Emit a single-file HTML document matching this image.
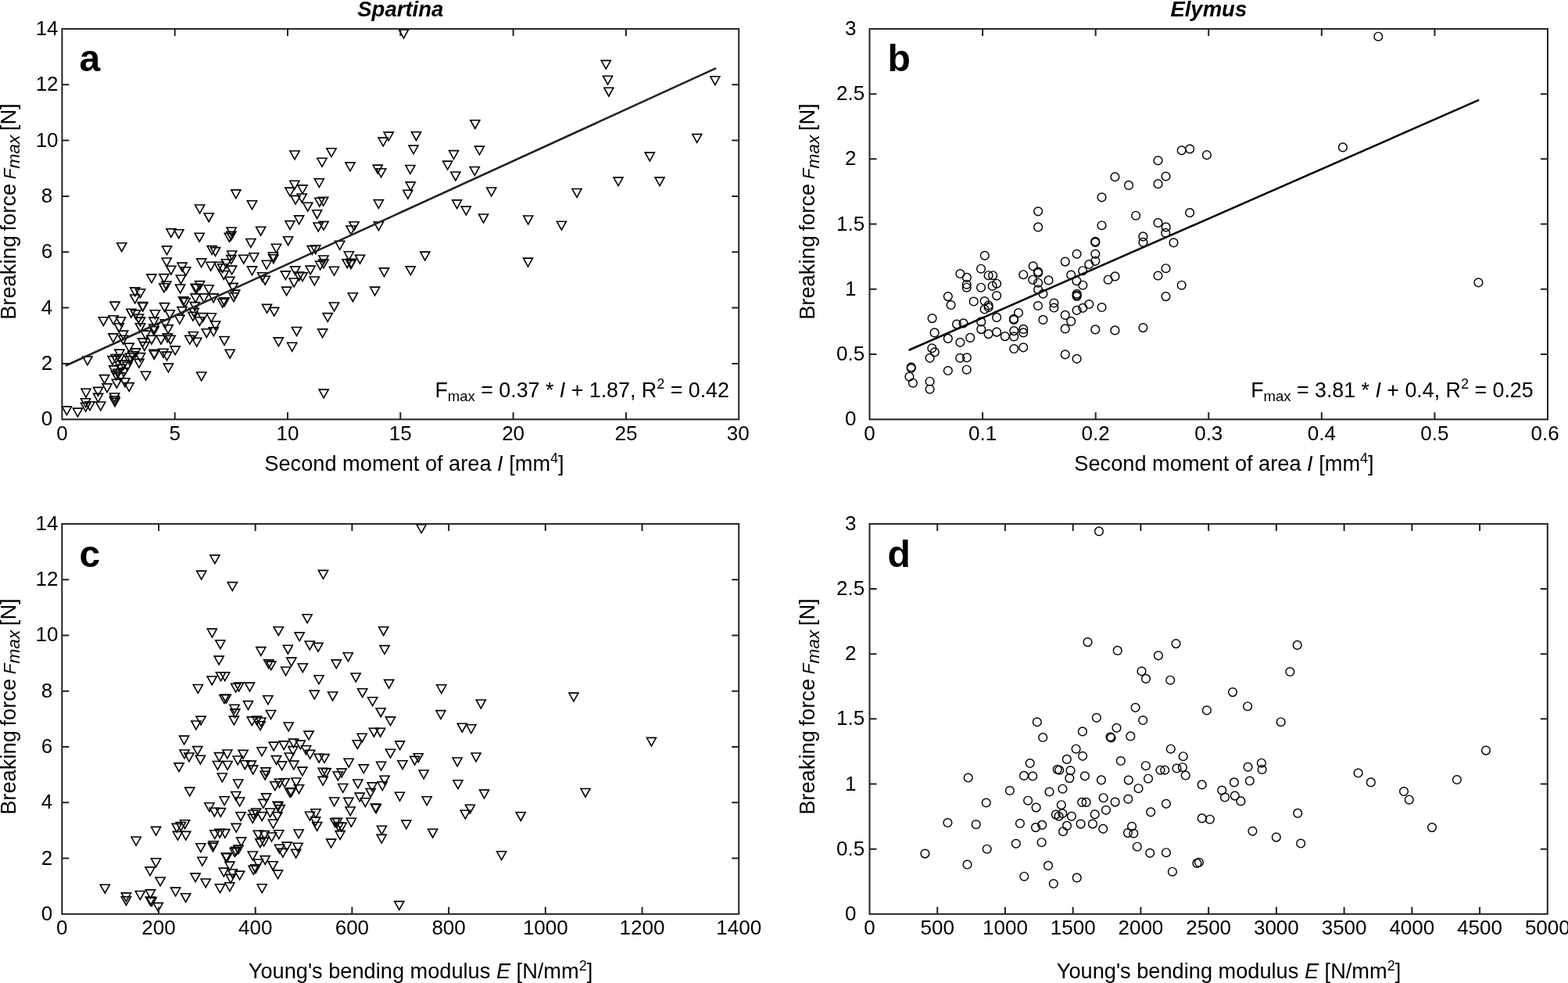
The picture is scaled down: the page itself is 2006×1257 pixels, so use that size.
<!DOCTYPE html><html><head><meta charset="utf-8"><style>html,body{margin:0;padding:0;background:#fff;overflow:hidden}svg{display:block}text{font-family:"Liberation Sans", Arial, sans-serif}</style></head><body>
<svg width="2006" height="1257" viewBox="0 0 2006 1257">
<rect width="2006" height="1257" fill="#fff"/>
<path d="M79.4 519.9H91.5L85.4 530.7Z" fill="none" stroke="#000" stroke-width="1.60" stroke-linejoin="miter"/>
<path d="M93.4 522.1H105.5L99.4 532.9Z" fill="none" stroke="#000" stroke-width="1.60" stroke-linejoin="miter"/>
<path d="M103.5 515.3H115.6L109.6 526.1Z" fill="none" stroke="#000" stroke-width="1.60" stroke-linejoin="miter"/>
<path d="M108.9 513.8H121.0L114.9 524.6Z" fill="none" stroke="#000" stroke-width="1.60" stroke-linejoin="miter"/>
<path d="M103.5 509.8H115.6L109.6 520.6Z" fill="none" stroke="#000" stroke-width="1.60" stroke-linejoin="miter"/>
<path d="M104.0 497.3H116.0L110.0 508.1Z" fill="none" stroke="#000" stroke-width="1.60" stroke-linejoin="miter"/>
<path d="M122.6 514.0H134.8L128.7 524.8Z" fill="none" stroke="#000" stroke-width="1.60" stroke-linejoin="miter"/>
<path d="M119.5 503.4H131.6L125.5 514.2Z" fill="none" stroke="#000" stroke-width="1.60" stroke-linejoin="miter"/>
<path d="M119.5 495.4H131.6L125.5 506.2Z" fill="none" stroke="#000" stroke-width="1.60" stroke-linejoin="miter"/>
<path d="M140.4 503.0H152.6L146.5 513.8Z" fill="none" stroke="#000" stroke-width="1.60" stroke-linejoin="miter"/>
<path d="M140.4 506.8H152.6L146.5 517.6Z" fill="none" stroke="#000" stroke-width="1.60" stroke-linejoin="miter"/>
<path d="M140.9 509.1H153.1L147.0 519.9Z" fill="none" stroke="#000" stroke-width="1.60" stroke-linejoin="miter"/>
<path d="M130.9 490.9H143.1L137.0 501.7Z" fill="none" stroke="#000" stroke-width="1.60" stroke-linejoin="miter"/>
<path d="M127.5 479.6H139.7L133.6 490.4Z" fill="none" stroke="#000" stroke-width="1.60" stroke-linejoin="miter"/>
<path d="M143.2 485.2H155.4L149.3 496.0Z" fill="none" stroke="#000" stroke-width="1.60" stroke-linejoin="miter"/>
<path d="M159.1 489.6H171.2L165.2 500.4Z" fill="none" stroke="#000" stroke-width="1.60" stroke-linejoin="miter"/>
<path d="M153.8 483.7H166.0L159.9 494.5Z" fill="none" stroke="#000" stroke-width="1.60" stroke-linejoin="miter"/>
<path d="M180.4 475.3H192.6L186.5 486.1Z" fill="none" stroke="#000" stroke-width="1.60" stroke-linejoin="miter"/>
<path d="M209.3 465.1H221.5L215.4 475.9Z" fill="none" stroke="#000" stroke-width="1.60" stroke-linejoin="miter"/>
<path d="M105.9 456.0H118.0L111.9 466.8Z" fill="none" stroke="#000" stroke-width="1.60" stroke-linejoin="miter"/>
<path d="M171.8 459.4H184.0L177.9 470.2Z" fill="none" stroke="#000" stroke-width="1.60" stroke-linejoin="miter"/>
<path d="M191.2 447.4H203.4L197.3 458.2Z" fill="none" stroke="#000" stroke-width="1.60" stroke-linejoin="miter"/>
<path d="M191.2 448.6H203.4L197.3 459.4Z" fill="none" stroke="#000" stroke-width="1.60" stroke-linejoin="miter"/>
<path d="M207.4 450.1H219.6L213.5 460.9Z" fill="none" stroke="#000" stroke-width="1.60" stroke-linejoin="miter"/>
<path d="M202.9 446.3H215.1L209.0 457.1Z" fill="none" stroke="#000" stroke-width="1.60" stroke-linejoin="miter"/>
<path d="M218.0 442.9H230.2L224.1 453.7Z" fill="none" stroke="#000" stroke-width="1.60" stroke-linejoin="miter"/>
<path d="M137.9 455.6H150.1L144.0 466.4Z" fill="none" stroke="#000" stroke-width="1.60" stroke-linejoin="miter"/>
<path d="M142.1 453.5H154.2L148.2 464.3Z" fill="none" stroke="#000" stroke-width="1.60" stroke-linejoin="miter"/>
<path d="M146.8 447.1H159.0L152.9 457.9Z" fill="none" stroke="#000" stroke-width="1.60" stroke-linejoin="miter"/>
<path d="M139.6 467.9H151.8L145.7 478.7Z" fill="none" stroke="#000" stroke-width="1.60" stroke-linejoin="miter"/>
<path d="M152.3 461.1H164.5L158.4 471.9Z" fill="none" stroke="#000" stroke-width="1.60" stroke-linejoin="miter"/>
<path d="M142.4 474.7H154.6L148.5 485.5Z" fill="none" stroke="#000" stroke-width="1.60" stroke-linejoin="miter"/>
<path d="M156.8 463.3H169.0L162.9 474.1Z" fill="none" stroke="#000" stroke-width="1.60" stroke-linejoin="miter"/>
<path d="M160.6 452.0H172.8L166.7 462.8Z" fill="none" stroke="#000" stroke-width="1.60" stroke-linejoin="miter"/>
<path d="M159.1 439.1H171.2L165.2 449.9Z" fill="none" stroke="#000" stroke-width="1.60" stroke-linejoin="miter"/>
<path d="M173.4 451.6H185.6L179.5 462.4Z" fill="none" stroke="#000" stroke-width="1.60" stroke-linejoin="miter"/>
<path d="M178.8 437.6H190.9L184.8 448.4Z" fill="none" stroke="#000" stroke-width="1.60" stroke-linejoin="miter"/>
<path d="M147.0 453.5H159.2L153.1 464.3Z" fill="none" stroke="#000" stroke-width="1.60" stroke-linejoin="miter"/>
<path d="M148.5 466.3H160.7L154.6 477.1Z" fill="none" stroke="#000" stroke-width="1.60" stroke-linejoin="miter"/>
<path d="M144.8 472.4H156.9L150.8 483.2Z" fill="none" stroke="#000" stroke-width="1.60" stroke-linejoin="miter"/>
<path d="M152.3 470.9H164.5L158.4 481.7Z" fill="none" stroke="#000" stroke-width="1.60" stroke-linejoin="miter"/>
<path d="M148.5 476.9H160.7L154.6 487.7Z" fill="none" stroke="#000" stroke-width="1.60" stroke-linejoin="miter"/>
<path d="M159.8 455.8H172.0L165.9 466.6Z" fill="none" stroke="#000" stroke-width="1.60" stroke-linejoin="miter"/>
<path d="M163.6 449.7H175.8L169.7 460.5Z" fill="none" stroke="#000" stroke-width="1.60" stroke-linejoin="miter"/>
<path d="M167.4 445.9H179.6L173.5 456.7Z" fill="none" stroke="#000" stroke-width="1.60" stroke-linejoin="miter"/>
<path d="M223.8 403.3H235.9L229.8 414.1Z" fill="none" stroke="#000" stroke-width="1.60" stroke-linejoin="miter"/>
<path d="M240.8 399.4H253.0L246.9 410.2Z" fill="none" stroke="#000" stroke-width="1.60" stroke-linejoin="miter"/>
<path d="M249.2 405.7H261.4L255.3 416.5Z" fill="none" stroke="#000" stroke-width="1.60" stroke-linejoin="miter"/>
<path d="M253.4 400.6H265.6L259.5 411.4Z" fill="none" stroke="#000" stroke-width="1.60" stroke-linejoin="miter"/>
<path d="M264.2 400.8H276.4L270.3 411.6Z" fill="none" stroke="#000" stroke-width="1.60" stroke-linejoin="miter"/>
<path d="M269.6 411.0H281.7L275.6 421.8Z" fill="none" stroke="#000" stroke-width="1.60" stroke-linejoin="miter"/>
<path d="M267.1 418.9H279.2L273.2 429.7Z" fill="none" stroke="#000" stroke-width="1.60" stroke-linejoin="miter"/>
<path d="M258.2 420.7H270.4L264.3 431.5Z" fill="none" stroke="#000" stroke-width="1.60" stroke-linejoin="miter"/>
<path d="M241.2 424.5H253.4L247.3 435.3Z" fill="none" stroke="#000" stroke-width="1.60" stroke-linejoin="miter"/>
<path d="M236.6 429.3H248.8L242.7 440.1Z" fill="none" stroke="#000" stroke-width="1.60" stroke-linejoin="miter"/>
<path d="M245.6 432.3H257.8L251.7 443.1Z" fill="none" stroke="#000" stroke-width="1.60" stroke-linejoin="miter"/>
<path d="M280.9 430.5H293.1L287.0 441.3Z" fill="none" stroke="#000" stroke-width="1.60" stroke-linejoin="miter"/>
<path d="M288.1 447.2H300.2L294.2 458.0Z" fill="none" stroke="#000" stroke-width="1.60" stroke-linejoin="miter"/>
<path d="M251.6 476.0H263.8L257.7 486.8Z" fill="none" stroke="#000" stroke-width="1.60" stroke-linejoin="miter"/>
<path d="M413.1 400.6H425.2L419.2 411.4Z" fill="none" stroke="#000" stroke-width="1.60" stroke-linejoin="miter"/>
<path d="M373.4 418.5H385.6L379.5 429.3Z" fill="none" stroke="#000" stroke-width="1.60" stroke-linejoin="miter"/>
<path d="M406.6 420.9H418.7L412.6 431.7Z" fill="none" stroke="#000" stroke-width="1.60" stroke-linejoin="miter"/>
<path d="M350.3 431.9H362.4L356.4 442.7Z" fill="none" stroke="#000" stroke-width="1.60" stroke-linejoin="miter"/>
<path d="M367.6 438.3H379.8L373.7 449.1Z" fill="none" stroke="#000" stroke-width="1.60" stroke-linejoin="miter"/>
<path d="M408.1 498.1H420.2L414.1 508.9Z" fill="none" stroke="#000" stroke-width="1.60" stroke-linejoin="miter"/>
<path d="M187.8 350.9H200.0L193.9 361.7Z" fill="none" stroke="#000" stroke-width="1.60" stroke-linejoin="miter"/>
<path d="M203.8 350.6H215.9L209.8 361.4Z" fill="none" stroke="#000" stroke-width="1.60" stroke-linejoin="miter"/>
<path d="M206.8 360.0H218.9L212.8 370.8Z" fill="none" stroke="#000" stroke-width="1.60" stroke-linejoin="miter"/>
<path d="M203.8 362.7H215.9L209.8 373.5Z" fill="none" stroke="#000" stroke-width="1.60" stroke-linejoin="miter"/>
<path d="M166.6 367.9H178.8L172.7 378.7Z" fill="none" stroke="#000" stroke-width="1.60" stroke-linejoin="miter"/>
<path d="M173.4 369.8H185.6L179.5 380.6Z" fill="none" stroke="#000" stroke-width="1.60" stroke-linejoin="miter"/>
<path d="M166.6 377.0H178.8L172.7 387.8Z" fill="none" stroke="#000" stroke-width="1.60" stroke-linejoin="miter"/>
<path d="M140.9 386.1H153.1L147.0 396.9Z" fill="none" stroke="#000" stroke-width="1.60" stroke-linejoin="miter"/>
<path d="M176.5 386.5H188.7L182.6 397.3Z" fill="none" stroke="#000" stroke-width="1.60" stroke-linejoin="miter"/>
<path d="M176.5 387.4H188.7L182.6 398.2Z" fill="none" stroke="#000" stroke-width="1.60" stroke-linejoin="miter"/>
<path d="M204.4 387.6H216.6L210.5 398.4Z" fill="none" stroke="#000" stroke-width="1.60" stroke-linejoin="miter"/>
<path d="M161.8 395.2H173.9L167.8 406.0Z" fill="none" stroke="#000" stroke-width="1.60" stroke-linejoin="miter"/>
<path d="M167.4 396.7H179.6L173.5 407.5Z" fill="none" stroke="#000" stroke-width="1.60" stroke-linejoin="miter"/>
<path d="M192.3 396.7H204.5L198.4 407.5Z" fill="none" stroke="#000" stroke-width="1.60" stroke-linejoin="miter"/>
<path d="M211.2 396.7H223.4L217.3 407.5Z" fill="none" stroke="#000" stroke-width="1.60" stroke-linejoin="miter"/>
<path d="M171.2 402.0H183.4L177.3 412.8Z" fill="none" stroke="#000" stroke-width="1.60" stroke-linejoin="miter"/>
<path d="M126.3 405.7H138.4L132.3 416.5Z" fill="none" stroke="#000" stroke-width="1.60" stroke-linejoin="miter"/>
<path d="M139.0 403.8H151.2L145.1 414.6Z" fill="none" stroke="#000" stroke-width="1.60" stroke-linejoin="miter"/>
<path d="M148.5 405.7H160.7L154.6 416.5Z" fill="none" stroke="#000" stroke-width="1.60" stroke-linejoin="miter"/>
<path d="M190.8 406.1H203.0L196.9 416.9Z" fill="none" stroke="#000" stroke-width="1.60" stroke-linejoin="miter"/>
<path d="M173.4 406.1H185.6L179.5 416.9Z" fill="none" stroke="#000" stroke-width="1.60" stroke-linejoin="miter"/>
<path d="M146.2 413.7H158.4L152.3 424.5Z" fill="none" stroke="#000" stroke-width="1.60" stroke-linejoin="miter"/>
<path d="M173.4 413.7H185.6L179.5 424.5Z" fill="none" stroke="#000" stroke-width="1.60" stroke-linejoin="miter"/>
<path d="M190.8 414.8H203.0L196.9 425.6Z" fill="none" stroke="#000" stroke-width="1.60" stroke-linejoin="miter"/>
<path d="M209.0 415.6H221.2L215.1 426.4Z" fill="none" stroke="#000" stroke-width="1.60" stroke-linejoin="miter"/>
<path d="M205.2 408.8H217.4L211.3 419.6Z" fill="none" stroke="#000" stroke-width="1.60" stroke-linejoin="miter"/>
<path d="M190.8 417.8H203.0L196.9 428.6Z" fill="none" stroke="#000" stroke-width="1.60" stroke-linejoin="miter"/>
<path d="M151.5 423.1H163.7L157.6 433.9Z" fill="none" stroke="#000" stroke-width="1.60" stroke-linejoin="miter"/>
<path d="M138.8 426.9H150.9L144.8 437.7Z" fill="none" stroke="#000" stroke-width="1.60" stroke-linejoin="miter"/>
<path d="M151.5 429.2H163.7L157.6 440.0Z" fill="none" stroke="#000" stroke-width="1.60" stroke-linejoin="miter"/>
<path d="M208.2 426.9H220.4L214.3 437.7Z" fill="none" stroke="#000" stroke-width="1.60" stroke-linejoin="miter"/>
<path d="M187.8 429.2H200.0L193.9 440.0Z" fill="none" stroke="#000" stroke-width="1.60" stroke-linejoin="miter"/>
<path d="M199.9 429.2H212.1L206.0 440.0Z" fill="none" stroke="#000" stroke-width="1.60" stroke-linejoin="miter"/>
<path d="M212.0 429.2H224.2L218.1 440.0Z" fill="none" stroke="#000" stroke-width="1.60" stroke-linejoin="miter"/>
<path d="M176.5 432.9H188.7L182.6 443.7Z" fill="none" stroke="#000" stroke-width="1.60" stroke-linejoin="miter"/>
<path d="M180.2 423.1H192.4L186.3 433.9Z" fill="none" stroke="#000" stroke-width="1.60" stroke-linejoin="miter"/>
<path d="M249.1 298.2H261.2L255.2 309.0Z" fill="none" stroke="#000" stroke-width="1.60" stroke-linejoin="miter"/>
<path d="M287.3 298.4H299.4L293.4 309.2Z" fill="none" stroke="#000" stroke-width="1.60" stroke-linejoin="miter"/>
<path d="M289.8 296.2H301.9L295.8 307.0Z" fill="none" stroke="#000" stroke-width="1.60" stroke-linejoin="miter"/>
<path d="M362.6 302.7H374.7L368.6 313.5Z" fill="none" stroke="#000" stroke-width="1.60" stroke-linejoin="miter"/>
<path d="M314.8 305.5H326.9L320.9 316.3Z" fill="none" stroke="#000" stroke-width="1.60" stroke-linejoin="miter"/>
<path d="M347.4 312.3H359.6L353.5 323.1Z" fill="none" stroke="#000" stroke-width="1.60" stroke-linejoin="miter"/>
<path d="M265.1 314.6H277.2L271.2 325.4Z" fill="none" stroke="#000" stroke-width="1.60" stroke-linejoin="miter"/>
<path d="M269.4 316.6H281.6L275.5 327.4Z" fill="none" stroke="#000" stroke-width="1.60" stroke-linejoin="miter"/>
<path d="M290.6 321.0H302.7L296.6 331.8Z" fill="none" stroke="#000" stroke-width="1.60" stroke-linejoin="miter"/>
<path d="M289.8 326.6H301.9L295.8 337.4Z" fill="none" stroke="#000" stroke-width="1.60" stroke-linejoin="miter"/>
<path d="M343.4 323.0H355.6L349.5 333.8Z" fill="none" stroke="#000" stroke-width="1.60" stroke-linejoin="miter"/>
<path d="M343.8 325.8H355.9L349.9 336.6Z" fill="none" stroke="#000" stroke-width="1.60" stroke-linejoin="miter"/>
<path d="M318.8 323.8H330.9L324.8 334.6Z" fill="none" stroke="#000" stroke-width="1.60" stroke-linejoin="miter"/>
<path d="M305.6 326.2H317.8L311.7 337.0Z" fill="none" stroke="#000" stroke-width="1.60" stroke-linejoin="miter"/>
<path d="M251.6 330.9H263.7L257.6 341.7Z" fill="none" stroke="#000" stroke-width="1.60" stroke-linejoin="miter"/>
<path d="M283.3 331.7H295.4L289.4 342.5Z" fill="none" stroke="#000" stroke-width="1.60" stroke-linejoin="miter"/>
<path d="M263.6 335.3H275.7L269.6 346.1Z" fill="none" stroke="#000" stroke-width="1.60" stroke-linejoin="miter"/>
<path d="M273.8 335.3H285.9L279.9 346.1Z" fill="none" stroke="#000" stroke-width="1.60" stroke-linejoin="miter"/>
<path d="M278.6 337.7H290.8L284.7 348.5Z" fill="none" stroke="#000" stroke-width="1.60" stroke-linejoin="miter"/>
<path d="M290.6 340.1H302.7L296.6 350.9Z" fill="none" stroke="#000" stroke-width="1.60" stroke-linejoin="miter"/>
<path d="M280.2 346.5H292.4L286.3 357.3Z" fill="none" stroke="#000" stroke-width="1.60" stroke-linejoin="miter"/>
<path d="M335.1 333.3H347.2L341.1 344.1Z" fill="none" stroke="#000" stroke-width="1.60" stroke-linejoin="miter"/>
<path d="M316.4 340.9H328.6L322.5 351.7Z" fill="none" stroke="#000" stroke-width="1.60" stroke-linejoin="miter"/>
<path d="M329.6 348.8H341.7L335.6 359.6Z" fill="none" stroke="#000" stroke-width="1.60" stroke-linejoin="miter"/>
<path d="M333.1 353.2H345.2L339.2 364.0Z" fill="none" stroke="#000" stroke-width="1.60" stroke-linejoin="miter"/>
<path d="M287.8 354.4H299.9L293.8 365.2Z" fill="none" stroke="#000" stroke-width="1.60" stroke-linejoin="miter"/>
<path d="M292.1 362.4H304.2L298.2 373.2Z" fill="none" stroke="#000" stroke-width="1.60" stroke-linejoin="miter"/>
<path d="M359.3 346.9H371.4L365.4 357.7Z" fill="none" stroke="#000" stroke-width="1.60" stroke-linejoin="miter"/>
<path d="M371.6 340.9H383.8L377.7 351.7Z" fill="none" stroke="#000" stroke-width="1.60" stroke-linejoin="miter"/>
<path d="M370.1 356.0H382.2L376.1 366.8Z" fill="none" stroke="#000" stroke-width="1.60" stroke-linejoin="miter"/>
<path d="M360.6 367.1H372.7L366.6 377.9Z" fill="none" stroke="#000" stroke-width="1.60" stroke-linejoin="miter"/>
<path d="M249.5 359.6H261.6L255.6 370.4Z" fill="none" stroke="#000" stroke-width="1.60" stroke-linejoin="miter"/>
<path d="M244.0 363.2H256.1L250.1 374.0Z" fill="none" stroke="#000" stroke-width="1.60" stroke-linejoin="miter"/>
<path d="M245.6 363.8H257.8L251.7 374.6Z" fill="none" stroke="#000" stroke-width="1.60" stroke-linejoin="miter"/>
<path d="M261.1 364.8H273.2L267.2 375.6Z" fill="none" stroke="#000" stroke-width="1.60" stroke-linejoin="miter"/>
<path d="M294.6 371.1H306.7L300.6 381.9Z" fill="none" stroke="#000" stroke-width="1.60" stroke-linejoin="miter"/>
<path d="M292.9 374.7H305.1L299.0 385.5Z" fill="none" stroke="#000" stroke-width="1.60" stroke-linejoin="miter"/>
<path d="M244.0 375.9H256.1L250.1 386.7Z" fill="none" stroke="#000" stroke-width="1.60" stroke-linejoin="miter"/>
<path d="M254.8 375.9H266.9L260.8 386.7Z" fill="none" stroke="#000" stroke-width="1.60" stroke-linejoin="miter"/>
<path d="M267.1 375.9H279.2L273.1 386.7Z" fill="none" stroke="#000" stroke-width="1.60" stroke-linejoin="miter"/>
<path d="M281.1 380.7H293.2L287.1 391.5Z" fill="none" stroke="#000" stroke-width="1.60" stroke-linejoin="miter"/>
<path d="M278.6 382.2H290.8L284.7 393.0Z" fill="none" stroke="#000" stroke-width="1.60" stroke-linejoin="miter"/>
<path d="M228.5 379.9H240.7L234.6 390.7Z" fill="none" stroke="#000" stroke-width="1.60" stroke-linejoin="miter"/>
<path d="M230.9 381.5H243.1L237.0 392.3Z" fill="none" stroke="#000" stroke-width="1.60" stroke-linejoin="miter"/>
<path d="M243.2 386.6H255.4L249.3 397.4Z" fill="none" stroke="#000" stroke-width="1.60" stroke-linejoin="miter"/>
<path d="M335.4 389.4H347.6L341.5 400.2Z" fill="none" stroke="#000" stroke-width="1.60" stroke-linejoin="miter"/>
<path d="M344.6 393.4H356.8L350.7 404.2Z" fill="none" stroke="#000" stroke-width="1.60" stroke-linejoin="miter"/>
<path d="M226.9 336.1H239.1L233.0 346.9Z" fill="none" stroke="#000" stroke-width="1.60" stroke-linejoin="miter"/>
<path d="M231.6 341.7H243.8L237.7 352.5Z" fill="none" stroke="#000" stroke-width="1.60" stroke-linejoin="miter"/>
<path d="M225.3 352.0H237.5L231.4 362.8Z" fill="none" stroke="#000" stroke-width="1.60" stroke-linejoin="miter"/>
<path d="M224.5 364.0H236.7L230.6 374.8Z" fill="none" stroke="#000" stroke-width="1.60" stroke-linejoin="miter"/>
<path d="M226.9 392.6H239.1L233.0 403.4Z" fill="none" stroke="#000" stroke-width="1.60" stroke-linejoin="miter"/>
<path d="M242.0 394.2H254.2L248.1 405.0Z" fill="none" stroke="#000" stroke-width="1.60" stroke-linejoin="miter"/>
<path d="M149.6 310.7H161.8L155.7 321.5Z" fill="none" stroke="#000" stroke-width="1.60" stroke-linejoin="miter"/>
<path d="M212.8 292.6H224.9L218.8 303.4Z" fill="none" stroke="#000" stroke-width="1.60" stroke-linejoin="miter"/>
<path d="M222.6 293.7H234.8L228.7 304.5Z" fill="none" stroke="#000" stroke-width="1.60" stroke-linejoin="miter"/>
<path d="M207.4 314.9H219.6L213.5 325.7Z" fill="none" stroke="#000" stroke-width="1.60" stroke-linejoin="miter"/>
<path d="M207.1 330.0H219.2L213.2 340.8Z" fill="none" stroke="#000" stroke-width="1.60" stroke-linejoin="miter"/>
<path d="M212.8 340.2H224.9L218.8 351.0Z" fill="none" stroke="#000" stroke-width="1.60" stroke-linejoin="miter"/>
<path d="M295.8 242.9H307.9L301.8 253.7Z" fill="none" stroke="#000" stroke-width="1.60" stroke-linejoin="miter"/>
<path d="M316.4 256.8H328.6L322.5 267.6Z" fill="none" stroke="#000" stroke-width="1.60" stroke-linejoin="miter"/>
<path d="M249.5 262.0H261.6L255.6 272.8Z" fill="none" stroke="#000" stroke-width="1.60" stroke-linejoin="miter"/>
<path d="M261.1 272.7H273.2L267.2 283.5Z" fill="none" stroke="#000" stroke-width="1.60" stroke-linejoin="miter"/>
<path d="M290.1 291.0H302.2L296.2 301.8Z" fill="none" stroke="#000" stroke-width="1.60" stroke-linejoin="miter"/>
<path d="M327.6 290.2H339.7L333.6 301.0Z" fill="none" stroke="#000" stroke-width="1.60" stroke-linejoin="miter"/>
<path d="M364.9 282.6H377.1L371.0 293.4Z" fill="none" stroke="#000" stroke-width="1.60" stroke-linejoin="miter"/>
<path d="M364.9 240.1H377.1L371.0 250.9Z" fill="none" stroke="#000" stroke-width="1.60" stroke-linejoin="miter"/>
<path d="M370.8 231.3H382.9L376.9 242.1Z" fill="none" stroke="#000" stroke-width="1.60" stroke-linejoin="miter"/>
<path d="M372.1 250.4H384.2L378.1 261.2Z" fill="none" stroke="#000" stroke-width="1.60" stroke-linejoin="miter"/>
<path d="M380.9 236.9H393.1L387.0 247.7Z" fill="none" stroke="#000" stroke-width="1.60" stroke-linejoin="miter"/>
<path d="M380.1 248.0H392.2L386.2 258.8Z" fill="none" stroke="#000" stroke-width="1.60" stroke-linejoin="miter"/>
<path d="M387.6 259.2H399.8L393.7 270.0Z" fill="none" stroke="#000" stroke-width="1.60" stroke-linejoin="miter"/>
<path d="M402.3 228.6H414.4L408.4 239.4Z" fill="none" stroke="#000" stroke-width="1.60" stroke-linejoin="miter"/>
<path d="M405.9 202.3H418.1L412.0 213.1Z" fill="none" stroke="#000" stroke-width="1.60" stroke-linejoin="miter"/>
<path d="M441.9 207.9H454.1L448.0 218.7Z" fill="none" stroke="#000" stroke-width="1.60" stroke-linejoin="miter"/>
<path d="M477.1 211.1H489.2L483.2 221.9Z" fill="none" stroke="#000" stroke-width="1.60" stroke-linejoin="miter"/>
<path d="M481.6 215.8H493.7L487.6 226.6Z" fill="none" stroke="#000" stroke-width="1.60" stroke-linejoin="miter"/>
<path d="M518.9 211.5H530.9L524.9 222.3Z" fill="none" stroke="#000" stroke-width="1.60" stroke-linejoin="miter"/>
<path d="M519.2 232.9H531.3L525.3 243.7Z" fill="none" stroke="#000" stroke-width="1.60" stroke-linejoin="miter"/>
<path d="M515.8 243.3H527.8L521.8 254.1Z" fill="none" stroke="#000" stroke-width="1.60" stroke-linejoin="miter"/>
<path d="M478.3 255.6H490.4L484.4 266.4Z" fill="none" stroke="#000" stroke-width="1.60" stroke-linejoin="miter"/>
<path d="M402.8 253.2H414.9L408.8 264.0Z" fill="none" stroke="#000" stroke-width="1.60" stroke-linejoin="miter"/>
<path d="M407.6 252.4H419.7L413.6 263.2Z" fill="none" stroke="#000" stroke-width="1.60" stroke-linejoin="miter"/>
<path d="M399.6 268.7H411.7L405.6 279.5Z" fill="none" stroke="#000" stroke-width="1.60" stroke-linejoin="miter"/>
<path d="M376.6 275.9H388.7L382.6 286.7Z" fill="none" stroke="#000" stroke-width="1.60" stroke-linejoin="miter"/>
<path d="M401.1 285.0H413.2L407.2 295.8Z" fill="none" stroke="#000" stroke-width="1.60" stroke-linejoin="miter"/>
<path d="M407.9 283.4H420.1L414.0 294.2Z" fill="none" stroke="#000" stroke-width="1.60" stroke-linejoin="miter"/>
<path d="M446.9 283.8H459.1L453.0 294.6Z" fill="none" stroke="#000" stroke-width="1.60" stroke-linejoin="miter"/>
<path d="M442.9 289.0H455.1L449.0 299.8Z" fill="none" stroke="#000" stroke-width="1.60" stroke-linejoin="miter"/>
<path d="M478.3 283.8H490.4L484.4 294.6Z" fill="none" stroke="#000" stroke-width="1.60" stroke-linejoin="miter"/>
<path d="M393.2 314.6H405.4L399.3 325.4Z" fill="none" stroke="#000" stroke-width="1.60" stroke-linejoin="miter"/>
<path d="M397.6 313.8H409.8L403.7 324.6Z" fill="none" stroke="#000" stroke-width="1.60" stroke-linejoin="miter"/>
<path d="M428.6 308.3H440.8L434.7 319.1Z" fill="none" stroke="#000" stroke-width="1.60" stroke-linejoin="miter"/>
<path d="M407.9 327.0H420.1L414.0 337.8Z" fill="none" stroke="#000" stroke-width="1.60" stroke-linejoin="miter"/>
<path d="M407.9 332.1H420.1L414.0 342.9Z" fill="none" stroke="#000" stroke-width="1.60" stroke-linejoin="miter"/>
<path d="M403.6 334.1H415.7L409.6 344.9Z" fill="none" stroke="#000" stroke-width="1.60" stroke-linejoin="miter"/>
<path d="M391.1 340.1H403.2L397.1 350.9Z" fill="none" stroke="#000" stroke-width="1.60" stroke-linejoin="miter"/>
<path d="M421.4 341.3H433.6L427.5 352.1Z" fill="none" stroke="#000" stroke-width="1.60" stroke-linejoin="miter"/>
<path d="M440.3 321.8H452.4L446.4 332.6Z" fill="none" stroke="#000" stroke-width="1.60" stroke-linejoin="miter"/>
<path d="M454.4 326.2H466.6L460.5 337.0Z" fill="none" stroke="#000" stroke-width="1.60" stroke-linejoin="miter"/>
<path d="M438.1 331.7H450.2L444.2 342.5Z" fill="none" stroke="#000" stroke-width="1.60" stroke-linejoin="miter"/>
<path d="M443.3 331.3H455.4L449.4 342.1Z" fill="none" stroke="#000" stroke-width="1.60" stroke-linejoin="miter"/>
<path d="M442.9 332.9H455.1L449.0 343.7Z" fill="none" stroke="#000" stroke-width="1.60" stroke-linejoin="miter"/>
<path d="M485.4 342.9H497.6L491.5 353.7Z" fill="none" stroke="#000" stroke-width="1.60" stroke-linejoin="miter"/>
<path d="M519.2 340.9H531.3L525.3 351.7Z" fill="none" stroke="#000" stroke-width="1.60" stroke-linejoin="miter"/>
<path d="M396.2 354.0H408.4L402.3 364.8Z" fill="none" stroke="#000" stroke-width="1.60" stroke-linejoin="miter"/>
<path d="M380.9 348.8H393.1L387.0 359.6Z" fill="none" stroke="#000" stroke-width="1.60" stroke-linejoin="miter"/>
<path d="M376.6 348.0H388.7L382.6 358.8Z" fill="none" stroke="#000" stroke-width="1.60" stroke-linejoin="miter"/>
<path d="M473.6 367.1H485.7L479.6 377.9Z" fill="none" stroke="#000" stroke-width="1.60" stroke-linejoin="miter"/>
<path d="M445.3 374.7H457.4L451.4 385.5Z" fill="none" stroke="#000" stroke-width="1.60" stroke-linejoin="miter"/>
<path d="M421.4 387.0H433.6L427.5 397.8Z" fill="none" stroke="#000" stroke-width="1.60" stroke-linejoin="miter"/>
<path d="M578.6 255.9H590.6L584.6 266.7Z" fill="none" stroke="#000" stroke-width="1.60" stroke-linejoin="miter"/>
<path d="M590.2 264.1H602.3L596.3 274.9Z" fill="none" stroke="#000" stroke-width="1.60" stroke-linejoin="miter"/>
<path d="M612.5 274.0H624.5L618.5 284.8Z" fill="none" stroke="#000" stroke-width="1.60" stroke-linejoin="miter"/>
<path d="M669.7 276.0H681.8L675.7 286.8Z" fill="none" stroke="#000" stroke-width="1.60" stroke-linejoin="miter"/>
<path d="M712.4 283.2H724.4L718.4 294.0Z" fill="none" stroke="#000" stroke-width="1.60" stroke-linejoin="miter"/>
<path d="M537.7 322.1H549.8L543.7 332.9Z" fill="none" stroke="#000" stroke-width="1.60" stroke-linejoin="miter"/>
<path d="M669.5 330.1H681.5L675.5 340.9Z" fill="none" stroke="#000" stroke-width="1.60" stroke-linejoin="miter"/>
<path d="M601.8 153.7H613.8L607.8 164.5Z" fill="none" stroke="#000" stroke-width="1.60" stroke-linejoin="miter"/>
<path d="M526.5 168.7H538.5L532.5 179.5Z" fill="none" stroke="#000" stroke-width="1.60" stroke-linejoin="miter"/>
<path d="M523.0 186.1H535.0L529.0 196.9Z" fill="none" stroke="#000" stroke-width="1.60" stroke-linejoin="miter"/>
<path d="M574.5 192.6H586.5L580.5 203.4Z" fill="none" stroke="#000" stroke-width="1.60" stroke-linejoin="miter"/>
<path d="M607.4 187.1H619.4L613.4 197.9Z" fill="none" stroke="#000" stroke-width="1.60" stroke-linejoin="miter"/>
<path d="M566.6 206.1H578.6L572.6 216.9Z" fill="none" stroke="#000" stroke-width="1.60" stroke-linejoin="miter"/>
<path d="M601.2 213.5H613.3L607.3 224.3Z" fill="none" stroke="#000" stroke-width="1.60" stroke-linejoin="miter"/>
<path d="M576.8 220.0H588.8L582.8 230.8Z" fill="none" stroke="#000" stroke-width="1.60" stroke-linejoin="miter"/>
<path d="M622.7 240.0H634.8L628.7 250.8Z" fill="none" stroke="#000" stroke-width="1.60" stroke-linejoin="miter"/>
<path d="M370.9 193.0H383.1L377.0 203.8Z" fill="none" stroke="#000" stroke-width="1.60" stroke-linejoin="miter"/>
<path d="M417.9 189.8H430.1L424.0 200.6Z" fill="none" stroke="#000" stroke-width="1.60" stroke-linejoin="miter"/>
<path d="M491.1 169.1H503.2L497.2 179.9Z" fill="none" stroke="#000" stroke-width="1.60" stroke-linejoin="miter"/>
<path d="M484.1 176.1H496.2L490.2 186.9Z" fill="none" stroke="#000" stroke-width="1.60" stroke-linejoin="miter"/>
<path d="M510.4 38.0H522.5L516.5 48.8Z" fill="none" stroke="#000" stroke-width="1.60" stroke-linejoin="miter"/>
<path d="M732.0 241.5H744.0L738.0 252.3Z" fill="none" stroke="#000" stroke-width="1.60" stroke-linejoin="miter"/>
<path d="M785.0 226.9H797.0L791.0 237.7Z" fill="none" stroke="#000" stroke-width="1.60" stroke-linejoin="miter"/>
<path d="M838.0 226.9H850.0L844.0 237.7Z" fill="none" stroke="#000" stroke-width="1.60" stroke-linejoin="miter"/>
<path d="M825.2 195.1H837.3L831.3 205.9Z" fill="none" stroke="#000" stroke-width="1.60" stroke-linejoin="miter"/>
<path d="M769.2 77.4H781.2L775.2 88.2Z" fill="none" stroke="#000" stroke-width="1.60" stroke-linejoin="miter"/>
<path d="M771.5 97.2H783.5L777.5 108.0Z" fill="none" stroke="#000" stroke-width="1.60" stroke-linejoin="miter"/>
<path d="M772.8 112.2H784.8L778.8 123.0Z" fill="none" stroke="#000" stroke-width="1.60" stroke-linejoin="miter"/>
<path d="M908.8 97.8H920.8L914.8 108.6Z" fill="none" stroke="#000" stroke-width="1.60" stroke-linejoin="miter"/>
<path d="M885.7 171.6H897.8L891.7 182.4Z" fill="none" stroke="#000" stroke-width="1.60" stroke-linejoin="miter"/>
<circle cx="1216.6" cy="390.0" r="5.35" fill="none" stroke="#000" stroke-width="1.45"/>
<circle cx="1264.6" cy="390.5" r="5.35" fill="none" stroke="#000" stroke-width="1.45"/>
<circle cx="1264.6" cy="393.0" r="5.35" fill="none" stroke="#000" stroke-width="1.45"/>
<circle cx="1259.6" cy="395.5" r="5.35" fill="none" stroke="#000" stroke-width="1.45"/>
<circle cx="1327.9" cy="391.0" r="5.35" fill="none" stroke="#000" stroke-width="1.45"/>
<circle cx="1303.0" cy="400.0" r="5.35" fill="none" stroke="#000" stroke-width="1.45"/>
<circle cx="1192.6" cy="407.1" r="5.35" fill="none" stroke="#000" stroke-width="1.45"/>
<circle cx="1275.1" cy="405.9" r="5.35" fill="none" stroke="#000" stroke-width="1.45"/>
<circle cx="1297.0" cy="407.8" r="5.35" fill="none" stroke="#000" stroke-width="1.45"/>
<circle cx="1297.0" cy="409.0" r="5.35" fill="none" stroke="#000" stroke-width="1.45"/>
<circle cx="1334.4" cy="408.9" r="5.35" fill="none" stroke="#000" stroke-width="1.45"/>
<circle cx="1224.0" cy="414.6" r="5.35" fill="none" stroke="#000" stroke-width="1.45"/>
<circle cx="1232.5" cy="413.4" r="5.35" fill="none" stroke="#000" stroke-width="1.45"/>
<circle cx="1255.2" cy="411.4" r="5.35" fill="none" stroke="#000" stroke-width="1.45"/>
<circle cx="1195.6" cy="425.4" r="5.35" fill="none" stroke="#000" stroke-width="1.45"/>
<circle cx="1255.2" cy="421.1" r="5.35" fill="none" stroke="#000" stroke-width="1.45"/>
<circle cx="1264.6" cy="427.1" r="5.35" fill="none" stroke="#000" stroke-width="1.45"/>
<circle cx="1275.1" cy="424.6" r="5.35" fill="none" stroke="#000" stroke-width="1.45"/>
<circle cx="1285.8" cy="430.1" r="5.35" fill="none" stroke="#000" stroke-width="1.45"/>
<circle cx="1297.2" cy="423.1" r="5.35" fill="none" stroke="#000" stroke-width="1.45"/>
<circle cx="1297.2" cy="430.4" r="5.35" fill="none" stroke="#000" stroke-width="1.45"/>
<circle cx="1309.2" cy="420.9" r="5.35" fill="none" stroke="#000" stroke-width="1.45"/>
<circle cx="1309.2" cy="425.4" r="5.35" fill="none" stroke="#000" stroke-width="1.45"/>
<circle cx="1212.8" cy="432.9" r="5.35" fill="none" stroke="#000" stroke-width="1.45"/>
<circle cx="1228.4" cy="437.8" r="5.35" fill="none" stroke="#000" stroke-width="1.45"/>
<circle cx="1241.2" cy="431.9" r="5.35" fill="none" stroke="#000" stroke-width="1.45"/>
<circle cx="1192.3" cy="445.3" r="5.35" fill="none" stroke="#000" stroke-width="1.45"/>
<circle cx="1195.8" cy="450.3" r="5.35" fill="none" stroke="#000" stroke-width="1.45"/>
<circle cx="1189.6" cy="457.8" r="5.35" fill="none" stroke="#000" stroke-width="1.45"/>
<circle cx="1228.2" cy="457.8" r="5.35" fill="none" stroke="#000" stroke-width="1.45"/>
<circle cx="1236.9" cy="457.3" r="5.35" fill="none" stroke="#000" stroke-width="1.45"/>
<circle cx="1297.2" cy="446.0" r="5.35" fill="none" stroke="#000" stroke-width="1.45"/>
<circle cx="1309.2" cy="444.3" r="5.35" fill="none" stroke="#000" stroke-width="1.45"/>
<circle cx="1165.7" cy="469.5" r="5.35" fill="none" stroke="#000" stroke-width="1.45"/>
<circle cx="1165.7" cy="471.0" r="5.35" fill="none" stroke="#000" stroke-width="1.45"/>
<circle cx="1163.4" cy="481.7" r="5.35" fill="none" stroke="#000" stroke-width="1.45"/>
<circle cx="1167.9" cy="489.7" r="5.35" fill="none" stroke="#000" stroke-width="1.45"/>
<circle cx="1189.6" cy="487.7" r="5.35" fill="none" stroke="#000" stroke-width="1.45"/>
<circle cx="1189.6" cy="497.7" r="5.35" fill="none" stroke="#000" stroke-width="1.45"/>
<circle cx="1212.8" cy="474.0" r="5.35" fill="none" stroke="#000" stroke-width="1.45"/>
<circle cx="1236.7" cy="472.7" r="5.35" fill="none" stroke="#000" stroke-width="1.45"/>
<circle cx="1328.1" cy="270.3" r="5.35" fill="none" stroke="#000" stroke-width="1.45"/>
<circle cx="1328.1" cy="290.4" r="5.35" fill="none" stroke="#000" stroke-width="1.45"/>
<circle cx="1259.8" cy="326.8" r="5.35" fill="none" stroke="#000" stroke-width="1.45"/>
<circle cx="1255.0" cy="343.7" r="5.35" fill="none" stroke="#000" stroke-width="1.45"/>
<circle cx="1228.4" cy="350.0" r="5.35" fill="none" stroke="#000" stroke-width="1.45"/>
<circle cx="1236.9" cy="354.9" r="5.35" fill="none" stroke="#000" stroke-width="1.45"/>
<circle cx="1236.7" cy="363.7" r="5.35" fill="none" stroke="#000" stroke-width="1.45"/>
<circle cx="1236.7" cy="367.7" r="5.35" fill="none" stroke="#000" stroke-width="1.45"/>
<circle cx="1255.0" cy="367.7" r="5.35" fill="none" stroke="#000" stroke-width="1.45"/>
<circle cx="1264.6" cy="352.2" r="5.35" fill="none" stroke="#000" stroke-width="1.45"/>
<circle cx="1270.1" cy="352.2" r="5.35" fill="none" stroke="#000" stroke-width="1.45"/>
<circle cx="1275.1" cy="362.7" r="5.35" fill="none" stroke="#000" stroke-width="1.45"/>
<circle cx="1269.6" cy="365.7" r="5.35" fill="none" stroke="#000" stroke-width="1.45"/>
<circle cx="1275.1" cy="378.1" r="5.35" fill="none" stroke="#000" stroke-width="1.45"/>
<circle cx="1212.8" cy="379.1" r="5.35" fill="none" stroke="#000" stroke-width="1.45"/>
<circle cx="1245.7" cy="385.5" r="5.35" fill="none" stroke="#000" stroke-width="1.45"/>
<circle cx="1259.6" cy="385.0" r="5.35" fill="none" stroke="#000" stroke-width="1.45"/>
<circle cx="1309.2" cy="351.2" r="5.35" fill="none" stroke="#000" stroke-width="1.45"/>
<circle cx="1321.7" cy="340.3" r="5.35" fill="none" stroke="#000" stroke-width="1.45"/>
<circle cx="1328.1" cy="347.5" r="5.35" fill="none" stroke="#000" stroke-width="1.45"/>
<circle cx="1328.1" cy="349.0" r="5.35" fill="none" stroke="#000" stroke-width="1.45"/>
<circle cx="1321.2" cy="357.7" r="5.35" fill="none" stroke="#000" stroke-width="1.45"/>
<circle cx="1328.1" cy="361.7" r="5.35" fill="none" stroke="#000" stroke-width="1.45"/>
<circle cx="1328.1" cy="370.2" r="5.35" fill="none" stroke="#000" stroke-width="1.45"/>
<circle cx="1334.4" cy="375.7" r="5.35" fill="none" stroke="#000" stroke-width="1.45"/>
<circle cx="1341.5" cy="358.4" r="5.35" fill="none" stroke="#000" stroke-width="1.45"/>
<circle cx="1453.1" cy="275.7" r="5.35" fill="none" stroke="#000" stroke-width="1.45"/>
<circle cx="1522.1" cy="272.0" r="5.35" fill="none" stroke="#000" stroke-width="1.45"/>
<circle cx="1409.5" cy="288.2" r="5.35" fill="none" stroke="#000" stroke-width="1.45"/>
<circle cx="1481.5" cy="284.9" r="5.35" fill="none" stroke="#000" stroke-width="1.45"/>
<circle cx="1491.7" cy="290.4" r="5.35" fill="none" stroke="#000" stroke-width="1.45"/>
<circle cx="1491.2" cy="297.9" r="5.35" fill="none" stroke="#000" stroke-width="1.45"/>
<circle cx="1462.4" cy="302.4" r="5.35" fill="none" stroke="#000" stroke-width="1.45"/>
<circle cx="1462.4" cy="309.9" r="5.35" fill="none" stroke="#000" stroke-width="1.45"/>
<circle cx="1501.5" cy="310.3" r="5.35" fill="none" stroke="#000" stroke-width="1.45"/>
<circle cx="1401.3" cy="308.8" r="5.35" fill="none" stroke="#000" stroke-width="1.45"/>
<circle cx="1401.3" cy="310.0" r="5.35" fill="none" stroke="#000" stroke-width="1.45"/>
<circle cx="1377.6" cy="324.8" r="5.35" fill="none" stroke="#000" stroke-width="1.45"/>
<circle cx="1401.3" cy="324.8" r="5.35" fill="none" stroke="#000" stroke-width="1.45"/>
<circle cx="1401.3" cy="333.8" r="5.35" fill="none" stroke="#000" stroke-width="1.45"/>
<circle cx="1393.3" cy="338.0" r="5.35" fill="none" stroke="#000" stroke-width="1.45"/>
<circle cx="1362.7" cy="334.6" r="5.35" fill="none" stroke="#000" stroke-width="1.45"/>
<circle cx="1385.1" cy="346.2" r="5.35" fill="none" stroke="#000" stroke-width="1.45"/>
<circle cx="1370.2" cy="351.5" r="5.35" fill="none" stroke="#000" stroke-width="1.45"/>
<circle cx="1377.4" cy="359.2" r="5.35" fill="none" stroke="#000" stroke-width="1.45"/>
<circle cx="1385.3" cy="364.7" r="5.35" fill="none" stroke="#000" stroke-width="1.45"/>
<circle cx="1377.6" cy="375.7" r="5.35" fill="none" stroke="#000" stroke-width="1.45"/>
<circle cx="1377.6" cy="377.5" r="5.35" fill="none" stroke="#000" stroke-width="1.45"/>
<circle cx="1377.6" cy="379.0" r="5.35" fill="none" stroke="#000" stroke-width="1.45"/>
<circle cx="1417.7" cy="357.7" r="5.35" fill="none" stroke="#000" stroke-width="1.45"/>
<circle cx="1426.5" cy="353.4" r="5.35" fill="none" stroke="#000" stroke-width="1.45"/>
<circle cx="1491.5" cy="343.2" r="5.35" fill="none" stroke="#000" stroke-width="1.45"/>
<circle cx="1481.5" cy="352.5" r="5.35" fill="none" stroke="#000" stroke-width="1.45"/>
<circle cx="1511.7" cy="364.7" r="5.35" fill="none" stroke="#000" stroke-width="1.45"/>
<circle cx="1491.5" cy="379.1" r="5.35" fill="none" stroke="#000" stroke-width="1.45"/>
<circle cx="1348.4" cy="387.5" r="5.35" fill="none" stroke="#000" stroke-width="1.45"/>
<circle cx="1348.4" cy="393.5" r="5.35" fill="none" stroke="#000" stroke-width="1.45"/>
<circle cx="1393.3" cy="389.0" r="5.35" fill="none" stroke="#000" stroke-width="1.45"/>
<circle cx="1385.3" cy="393.8" r="5.35" fill="none" stroke="#000" stroke-width="1.45"/>
<circle cx="1377.6" cy="396.8" r="5.35" fill="none" stroke="#000" stroke-width="1.45"/>
<circle cx="1409.5" cy="393.0" r="5.35" fill="none" stroke="#000" stroke-width="1.45"/>
<circle cx="1362.7" cy="402.9" r="5.35" fill="none" stroke="#000" stroke-width="1.45"/>
<circle cx="1370.2" cy="410.9" r="5.35" fill="none" stroke="#000" stroke-width="1.45"/>
<circle cx="1362.7" cy="420.4" r="5.35" fill="none" stroke="#000" stroke-width="1.45"/>
<circle cx="1401.3" cy="421.4" r="5.35" fill="none" stroke="#000" stroke-width="1.45"/>
<circle cx="1426.4" cy="422.4" r="5.35" fill="none" stroke="#000" stroke-width="1.45"/>
<circle cx="1462.4" cy="419.1" r="5.35" fill="none" stroke="#000" stroke-width="1.45"/>
<circle cx="1362.7" cy="453.3" r="5.35" fill="none" stroke="#000" stroke-width="1.45"/>
<circle cx="1377.6" cy="458.8" r="5.35" fill="none" stroke="#000" stroke-width="1.45"/>
<circle cx="1511.7" cy="192.3" r="5.35" fill="none" stroke="#000" stroke-width="1.45"/>
<circle cx="1522.1" cy="190.5" r="5.35" fill="none" stroke="#000" stroke-width="1.45"/>
<circle cx="1481.5" cy="205.3" r="5.35" fill="none" stroke="#000" stroke-width="1.45"/>
<circle cx="1426.4" cy="226.2" r="5.35" fill="none" stroke="#000" stroke-width="1.45"/>
<circle cx="1444.0" cy="236.9" r="5.35" fill="none" stroke="#000" stroke-width="1.45"/>
<circle cx="1491.5" cy="225.5" r="5.35" fill="none" stroke="#000" stroke-width="1.45"/>
<circle cx="1481.5" cy="235.2" r="5.35" fill="none" stroke="#000" stroke-width="1.45"/>
<circle cx="1409.5" cy="252.3" r="5.35" fill="none" stroke="#000" stroke-width="1.45"/>
<circle cx="1543.9" cy="198.2" r="5.35" fill="none" stroke="#000" stroke-width="1.45"/>
<circle cx="1717.9" cy="188.4" r="5.35" fill="none" stroke="#000" stroke-width="1.45"/>
<circle cx="1763.3" cy="46.7" r="5.35" fill="none" stroke="#000" stroke-width="1.45"/>
<circle cx="1891.4" cy="361.3" r="5.35" fill="none" stroke="#000" stroke-width="1.45"/>
<path d="M128.2 1131.2H140.4L134.3 1142.0Z" fill="none" stroke="#000" stroke-width="1.60" stroke-linejoin="miter"/>
<path d="M155.3 1141.9H167.5L161.4 1152.7Z" fill="none" stroke="#000" stroke-width="1.60" stroke-linejoin="miter"/>
<path d="M155.3 1146.7H167.5L161.4 1157.5Z" fill="none" stroke="#000" stroke-width="1.60" stroke-linejoin="miter"/>
<path d="M173.2 1139.5H185.4L179.3 1150.3Z" fill="none" stroke="#000" stroke-width="1.60" stroke-linejoin="miter"/>
<path d="M186.3 1137.9H198.5L192.4 1148.7Z" fill="none" stroke="#000" stroke-width="1.60" stroke-linejoin="miter"/>
<path d="M186.3 1147.1H198.5L192.4 1157.9Z" fill="none" stroke="#000" stroke-width="1.60" stroke-linejoin="miter"/>
<path d="M187.9 1147.9H200.1L194.0 1158.7Z" fill="none" stroke="#000" stroke-width="1.60" stroke-linejoin="miter"/>
<path d="M196.2 1154.6H208.4L202.3 1165.4Z" fill="none" stroke="#000" stroke-width="1.60" stroke-linejoin="miter"/>
<path d="M193.4 1097.8H205.6L199.5 1108.6Z" fill="none" stroke="#000" stroke-width="1.60" stroke-linejoin="miter"/>
<path d="M185.9 1108.9H198.1L192.0 1119.7Z" fill="none" stroke="#000" stroke-width="1.60" stroke-linejoin="miter"/>
<path d="M199.0 1122.0H211.2L205.1 1132.8Z" fill="none" stroke="#000" stroke-width="1.60" stroke-linejoin="miter"/>
<path d="M218.5 1135.1H230.7L224.6 1145.9Z" fill="none" stroke="#000" stroke-width="1.60" stroke-linejoin="miter"/>
<path d="M231.5 1142.7H243.7L237.6 1153.5Z" fill="none" stroke="#000" stroke-width="1.60" stroke-linejoin="miter"/>
<path d="M243.9 1116.9H256.1L250.0 1127.7Z" fill="none" stroke="#000" stroke-width="1.60" stroke-linejoin="miter"/>
<path d="M257.1 1124.0H269.2L263.2 1134.8Z" fill="none" stroke="#000" stroke-width="1.60" stroke-linejoin="miter"/>
<path d="M252.8 1096.2H264.9L258.8 1107.0Z" fill="none" stroke="#000" stroke-width="1.60" stroke-linejoin="miter"/>
<path d="M250.8 1078.7H262.9L256.8 1089.5Z" fill="none" stroke="#000" stroke-width="1.60" stroke-linejoin="miter"/>
<path d="M168.0 1070.3H180.2L174.1 1081.1Z" fill="none" stroke="#000" stroke-width="1.60" stroke-linejoin="miter"/>
<path d="M267.1 1075.7H279.2L273.2 1086.5Z" fill="none" stroke="#000" stroke-width="1.60" stroke-linejoin="miter"/>
<path d="M266.3 1078.1H278.4L272.4 1088.9Z" fill="none" stroke="#000" stroke-width="1.60" stroke-linejoin="miter"/>
<path d="M302.6 1071.1H314.7L308.6 1081.9Z" fill="none" stroke="#000" stroke-width="1.60" stroke-linejoin="miter"/>
<path d="M298.9 1081.1H311.1L305.0 1091.9Z" fill="none" stroke="#000" stroke-width="1.60" stroke-linejoin="miter"/>
<path d="M294.1 1084.6H306.2L300.2 1095.4Z" fill="none" stroke="#000" stroke-width="1.60" stroke-linejoin="miter"/>
<path d="M295.8 1083.3H307.9L301.8 1094.1Z" fill="none" stroke="#000" stroke-width="1.60" stroke-linejoin="miter"/>
<path d="M283.1 1091.0H295.2L289.1 1101.8Z" fill="none" stroke="#000" stroke-width="1.60" stroke-linejoin="miter"/>
<path d="M284.2 1091.6H296.4L290.3 1102.4Z" fill="none" stroke="#000" stroke-width="1.60" stroke-linejoin="miter"/>
<path d="M287.8 1102.1H299.9L293.9 1112.9Z" fill="none" stroke="#000" stroke-width="1.60" stroke-linejoin="miter"/>
<path d="M280.2 1110.1H292.4L286.3 1120.9Z" fill="none" stroke="#000" stroke-width="1.60" stroke-linejoin="miter"/>
<path d="M291.3 1111.7H303.4L297.4 1122.5Z" fill="none" stroke="#000" stroke-width="1.60" stroke-linejoin="miter"/>
<path d="M300.6 1114.1H312.7L306.6 1124.9Z" fill="none" stroke="#000" stroke-width="1.60" stroke-linejoin="miter"/>
<path d="M289.1 1118.4H301.2L295.1 1129.2Z" fill="none" stroke="#000" stroke-width="1.60" stroke-linejoin="miter"/>
<path d="M275.4 1130.8H287.6L281.5 1141.6Z" fill="none" stroke="#000" stroke-width="1.60" stroke-linejoin="miter"/>
<path d="M287.8 1128.8H299.9L293.9 1139.6Z" fill="none" stroke="#000" stroke-width="1.60" stroke-linejoin="miter"/>
<path d="M317.2 1089.0H329.4L323.3 1099.8Z" fill="none" stroke="#000" stroke-width="1.60" stroke-linejoin="miter"/>
<path d="M333.1 1094.6H345.2L339.2 1105.4Z" fill="none" stroke="#000" stroke-width="1.60" stroke-linejoin="miter"/>
<path d="M324.3 1099.0H336.4L330.4 1109.8Z" fill="none" stroke="#000" stroke-width="1.60" stroke-linejoin="miter"/>
<path d="M320.8 1105.7H332.9L326.9 1116.5Z" fill="none" stroke="#000" stroke-width="1.60" stroke-linejoin="miter"/>
<path d="M318.1 1107.3H330.2L324.1 1118.1Z" fill="none" stroke="#000" stroke-width="1.60" stroke-linejoin="miter"/>
<path d="M343.1 1101.7H355.2L349.1 1112.5Z" fill="none" stroke="#000" stroke-width="1.60" stroke-linejoin="miter"/>
<path d="M349.4 1112.9H361.6L355.5 1123.7Z" fill="none" stroke="#000" stroke-width="1.60" stroke-linejoin="miter"/>
<path d="M329.1 1130.8H341.2L335.2 1141.6Z" fill="none" stroke="#000" stroke-width="1.60" stroke-linejoin="miter"/>
<path d="M326.8 1072.7H338.9L332.8 1083.5Z" fill="none" stroke="#000" stroke-width="1.60" stroke-linejoin="miter"/>
<path d="M331.6 1071.1H343.7L337.6 1081.9Z" fill="none" stroke="#000" stroke-width="1.60" stroke-linejoin="miter"/>
<path d="M351.4 1080.3H363.6L357.5 1091.1Z" fill="none" stroke="#000" stroke-width="1.60" stroke-linejoin="miter"/>
<path d="M360.9 1077.1H373.1L367.0 1087.9Z" fill="none" stroke="#000" stroke-width="1.60" stroke-linejoin="miter"/>
<path d="M355.8 1085.4H367.9L361.9 1096.2Z" fill="none" stroke="#000" stroke-width="1.60" stroke-linejoin="miter"/>
<path d="M374.9 1078.3H387.1L381.0 1089.1Z" fill="none" stroke="#000" stroke-width="1.60" stroke-linejoin="miter"/>
<path d="M372.6 1086.2H384.7L378.6 1097.0Z" fill="none" stroke="#000" stroke-width="1.60" stroke-linejoin="miter"/>
<path d="M417.6 1073.1H429.7L423.6 1083.9Z" fill="none" stroke="#000" stroke-width="1.60" stroke-linejoin="miter"/>
<path d="M482.1 1067.4H494.2L488.2 1078.2Z" fill="none" stroke="#000" stroke-width="1.60" stroke-linejoin="miter"/>
<path d="M504.6 1152.6H516.8L510.7 1163.4Z" fill="none" stroke="#000" stroke-width="1.60" stroke-linejoin="miter"/>
<path d="M222.9 975.9H235.1L229.0 986.7Z" fill="none" stroke="#000" stroke-width="1.60" stroke-linejoin="miter"/>
<path d="M250.3 966.2H262.4L256.4 977.0Z" fill="none" stroke="#000" stroke-width="1.60" stroke-linejoin="miter"/>
<path d="M236.6 1007.1H248.8L242.7 1017.9Z" fill="none" stroke="#000" stroke-width="1.60" stroke-linejoin="miter"/>
<path d="M261.8 1026.8H273.9L267.9 1037.6Z" fill="none" stroke="#000" stroke-width="1.60" stroke-linejoin="miter"/>
<path d="M193.4 1057.4H205.6L199.5 1068.2Z" fill="none" stroke="#000" stroke-width="1.60" stroke-linejoin="miter"/>
<path d="M220.1 1053.4H232.2L226.2 1064.2Z" fill="none" stroke="#000" stroke-width="1.60" stroke-linejoin="miter"/>
<path d="M225.2 1051.5H237.4L231.3 1062.3Z" fill="none" stroke="#000" stroke-width="1.60" stroke-linejoin="miter"/>
<path d="M230.4 1048.7H242.6L236.5 1059.5Z" fill="none" stroke="#000" stroke-width="1.60" stroke-linejoin="miter"/>
<path d="M221.3 1063.4H233.5L227.4 1074.2Z" fill="none" stroke="#000" stroke-width="1.60" stroke-linejoin="miter"/>
<path d="M231.6 1063.4H243.8L237.7 1074.2Z" fill="none" stroke="#000" stroke-width="1.60" stroke-linejoin="miter"/>
<path d="M272.3 973.5H284.4L278.4 984.3Z" fill="none" stroke="#000" stroke-width="1.60" stroke-linejoin="miter"/>
<path d="M285.1 973.5H297.2L291.1 984.3Z" fill="none" stroke="#000" stroke-width="1.60" stroke-linejoin="miter"/>
<path d="M298.1 967.0H310.2L304.2 977.8Z" fill="none" stroke="#000" stroke-width="1.60" stroke-linejoin="miter"/>
<path d="M307.2 972.7H319.4L313.3 983.5Z" fill="none" stroke="#000" stroke-width="1.60" stroke-linejoin="miter"/>
<path d="M315.2 973.1H327.4L321.3 983.9Z" fill="none" stroke="#000" stroke-width="1.60" stroke-linejoin="miter"/>
<path d="M317.6 979.1H329.8L323.7 989.9Z" fill="none" stroke="#000" stroke-width="1.60" stroke-linejoin="miter"/>
<path d="M333.9 981.9H346.1L340.0 992.7Z" fill="none" stroke="#000" stroke-width="1.60" stroke-linejoin="miter"/>
<path d="M333.1 986.2H345.2L339.2 997.0Z" fill="none" stroke="#000" stroke-width="1.60" stroke-linejoin="miter"/>
<path d="M347.4 966.6H359.6L353.5 977.4Z" fill="none" stroke="#000" stroke-width="1.60" stroke-linejoin="miter"/>
<path d="M354.6 973.9H366.8L360.7 984.7Z" fill="none" stroke="#000" stroke-width="1.60" stroke-linejoin="miter"/>
<path d="M369.8 973.1H381.9L375.8 983.9Z" fill="none" stroke="#000" stroke-width="1.60" stroke-linejoin="miter"/>
<path d="M380.8 981.1H392.9L386.9 991.9Z" fill="none" stroke="#000" stroke-width="1.60" stroke-linejoin="miter"/>
<path d="M407.1 982.3H419.2L413.2 993.1Z" fill="none" stroke="#000" stroke-width="1.60" stroke-linejoin="miter"/>
<path d="M411.1 982.9H423.2L417.1 993.7Z" fill="none" stroke="#000" stroke-width="1.60" stroke-linejoin="miter"/>
<path d="M407.1 993.4H419.2L413.2 1004.2Z" fill="none" stroke="#000" stroke-width="1.60" stroke-linejoin="miter"/>
<path d="M278.2 989.0H290.4L284.3 999.8Z" fill="none" stroke="#000" stroke-width="1.60" stroke-linejoin="miter"/>
<path d="M298.6 997.0H310.7L304.6 1007.8Z" fill="none" stroke="#000" stroke-width="1.60" stroke-linejoin="miter"/>
<path d="M345.8 999.8H357.9L351.9 1010.6Z" fill="none" stroke="#000" stroke-width="1.60" stroke-linejoin="miter"/>
<path d="M351.4 996.2H363.6L357.5 1007.0Z" fill="none" stroke="#000" stroke-width="1.60" stroke-linejoin="miter"/>
<path d="M358.1 995.8H370.2L364.2 1006.6Z" fill="none" stroke="#000" stroke-width="1.60" stroke-linejoin="miter"/>
<path d="M372.9 995.0H385.1L379.0 1005.8Z" fill="none" stroke="#000" stroke-width="1.60" stroke-linejoin="miter"/>
<path d="M376.4 1003.7H388.6L382.5 1014.5Z" fill="none" stroke="#000" stroke-width="1.60" stroke-linejoin="miter"/>
<path d="M366.6 1007.7H378.7L372.6 1018.5Z" fill="none" stroke="#000" stroke-width="1.60" stroke-linejoin="miter"/>
<path d="M364.9 1008.5H377.1L371.0 1019.3Z" fill="none" stroke="#000" stroke-width="1.60" stroke-linejoin="miter"/>
<path d="M281.1 1018.8H293.2L287.1 1029.6Z" fill="none" stroke="#000" stroke-width="1.60" stroke-linejoin="miter"/>
<path d="M295.8 1012.5H307.9L301.8 1023.3Z" fill="none" stroke="#000" stroke-width="1.60" stroke-linejoin="miter"/>
<path d="M300.6 1020.0H312.7L306.6 1030.8Z" fill="none" stroke="#000" stroke-width="1.60" stroke-linejoin="miter"/>
<path d="M334.6 1014.9H346.7L340.6 1025.7Z" fill="none" stroke="#000" stroke-width="1.60" stroke-linejoin="miter"/>
<path d="M330.8 1022.4H342.9L336.8 1033.2Z" fill="none" stroke="#000" stroke-width="1.60" stroke-linejoin="miter"/>
<path d="M349.1 1025.2H361.2L355.1 1036.0Z" fill="none" stroke="#000" stroke-width="1.60" stroke-linejoin="miter"/>
<path d="M349.8 1026.0H361.9L355.9 1036.8Z" fill="none" stroke="#000" stroke-width="1.60" stroke-linejoin="miter"/>
<path d="M352.2 1029.6H364.4L358.3 1040.4Z" fill="none" stroke="#000" stroke-width="1.60" stroke-linejoin="miter"/>
<path d="M321.6 1034.0H333.8L327.7 1044.8Z" fill="none" stroke="#000" stroke-width="1.60" stroke-linejoin="miter"/>
<path d="M318.1 1036.3H330.2L324.1 1047.1Z" fill="none" stroke="#000" stroke-width="1.60" stroke-linejoin="miter"/>
<path d="M317.2 1041.5H329.4L323.3 1052.3Z" fill="none" stroke="#000" stroke-width="1.60" stroke-linejoin="miter"/>
<path d="M329.1 1038.7H341.2L335.2 1049.5Z" fill="none" stroke="#000" stroke-width="1.60" stroke-linejoin="miter"/>
<path d="M339.6 1034.0H351.7L345.6 1044.8Z" fill="none" stroke="#000" stroke-width="1.60" stroke-linejoin="miter"/>
<path d="M348.6 1038.7H360.8L354.7 1049.5Z" fill="none" stroke="#000" stroke-width="1.60" stroke-linejoin="miter"/>
<path d="M343.4 1048.3H355.6L349.5 1059.1Z" fill="none" stroke="#000" stroke-width="1.60" stroke-linejoin="miter"/>
<path d="M397.9 1034.8H410.1L404.0 1045.6Z" fill="none" stroke="#000" stroke-width="1.60" stroke-linejoin="miter"/>
<path d="M390.4 1038.3H402.6L396.5 1049.1Z" fill="none" stroke="#000" stroke-width="1.60" stroke-linejoin="miter"/>
<path d="M397.6 1045.1H409.7L403.6 1055.9Z" fill="none" stroke="#000" stroke-width="1.60" stroke-linejoin="miter"/>
<path d="M399.6 1051.5H411.7L405.6 1062.3Z" fill="none" stroke="#000" stroke-width="1.60" stroke-linejoin="miter"/>
<path d="M301.9 1038.7H314.1L308.0 1049.5Z" fill="none" stroke="#000" stroke-width="1.60" stroke-linejoin="miter"/>
<path d="M276.2 1033.6H288.4L282.3 1044.4Z" fill="none" stroke="#000" stroke-width="1.60" stroke-linejoin="miter"/>
<path d="M268.3 1033.2H280.4L274.4 1044.0Z" fill="none" stroke="#000" stroke-width="1.60" stroke-linejoin="miter"/>
<path d="M296.1 1053.4H308.2L302.2 1064.2Z" fill="none" stroke="#000" stroke-width="1.60" stroke-linejoin="miter"/>
<path d="M275.1 1060.2H287.2L281.1 1071.0Z" fill="none" stroke="#000" stroke-width="1.60" stroke-linejoin="miter"/>
<path d="M281.8 1060.6H293.9L287.9 1071.4Z" fill="none" stroke="#000" stroke-width="1.60" stroke-linejoin="miter"/>
<path d="M268.8 1061.8H280.9L274.8 1072.6Z" fill="none" stroke="#000" stroke-width="1.60" stroke-linejoin="miter"/>
<path d="M324.3 1062.2H336.4L330.4 1073.0Z" fill="none" stroke="#000" stroke-width="1.60" stroke-linejoin="miter"/>
<path d="M332.3 1062.6H344.4L338.4 1073.4Z" fill="none" stroke="#000" stroke-width="1.60" stroke-linejoin="miter"/>
<path d="M350.6 1061.8H362.8L356.7 1072.6Z" fill="none" stroke="#000" stroke-width="1.60" stroke-linejoin="miter"/>
<path d="M341.4 1065.0H353.6L347.5 1075.8Z" fill="none" stroke="#000" stroke-width="1.60" stroke-linejoin="miter"/>
<path d="M376.1 1061.0H388.2L382.1 1071.8Z" fill="none" stroke="#000" stroke-width="1.60" stroke-linejoin="miter"/>
<path d="M440.1 970.3H452.2L446.2 981.1Z" fill="none" stroke="#000" stroke-width="1.60" stroke-linejoin="miter"/>
<path d="M431.1 983.1H443.2L437.1 993.9Z" fill="none" stroke="#000" stroke-width="1.60" stroke-linejoin="miter"/>
<path d="M426.2 987.0H438.4L432.3 997.8Z" fill="none" stroke="#000" stroke-width="1.60" stroke-linejoin="miter"/>
<path d="M459.2 977.9H471.4L465.3 988.7Z" fill="none" stroke="#000" stroke-width="1.60" stroke-linejoin="miter"/>
<path d="M481.6 974.3H493.7L487.6 985.1Z" fill="none" stroke="#000" stroke-width="1.60" stroke-linejoin="miter"/>
<path d="M508.9 972.7H521.0L515.0 983.5Z" fill="none" stroke="#000" stroke-width="1.60" stroke-linejoin="miter"/>
<path d="M524.6 967.4H536.6L530.6 978.2Z" fill="none" stroke="#000" stroke-width="1.60" stroke-linejoin="miter"/>
<path d="M536.1 985.0H548.1L542.1 995.8Z" fill="none" stroke="#000" stroke-width="1.60" stroke-linejoin="miter"/>
<path d="M485.9 992.2H498.1L492.0 1003.0Z" fill="none" stroke="#000" stroke-width="1.60" stroke-linejoin="miter"/>
<path d="M483.1 999.8H495.2L489.2 1010.6Z" fill="none" stroke="#000" stroke-width="1.60" stroke-linejoin="miter"/>
<path d="M470.1 1000.9H482.2L476.1 1011.7Z" fill="none" stroke="#000" stroke-width="1.60" stroke-linejoin="miter"/>
<path d="M468.1 1008.5H480.2L474.1 1019.3Z" fill="none" stroke="#000" stroke-width="1.60" stroke-linejoin="miter"/>
<path d="M451.8 997.0H463.9L457.8 1007.8Z" fill="none" stroke="#000" stroke-width="1.60" stroke-linejoin="miter"/>
<path d="M432.6 1002.5H444.8L438.7 1013.3Z" fill="none" stroke="#000" stroke-width="1.60" stroke-linejoin="miter"/>
<path d="M454.1 1014.1H466.2L460.2 1024.9Z" fill="none" stroke="#000" stroke-width="1.60" stroke-linejoin="miter"/>
<path d="M461.2 1020.8H473.4L467.3 1031.6Z" fill="none" stroke="#000" stroke-width="1.60" stroke-linejoin="miter"/>
<path d="M421.6 1020.0H433.7L427.6 1030.8Z" fill="none" stroke="#000" stroke-width="1.60" stroke-linejoin="miter"/>
<path d="M439.8 1020.4H451.9L445.8 1031.2Z" fill="none" stroke="#000" stroke-width="1.60" stroke-linejoin="miter"/>
<path d="M442.1 1032.0H454.2L448.2 1042.8Z" fill="none" stroke="#000" stroke-width="1.60" stroke-linejoin="miter"/>
<path d="M474.3 1028.0H486.4L480.4 1038.8Z" fill="none" stroke="#000" stroke-width="1.60" stroke-linejoin="miter"/>
<path d="M475.1 1028.8H487.2L481.2 1039.6Z" fill="none" stroke="#000" stroke-width="1.60" stroke-linejoin="miter"/>
<path d="M505.4 1013.3H517.5L511.5 1024.1Z" fill="none" stroke="#000" stroke-width="1.60" stroke-linejoin="miter"/>
<path d="M540.1 1018.8H552.1L546.1 1029.6Z" fill="none" stroke="#000" stroke-width="1.60" stroke-linejoin="miter"/>
<path d="M422.6 1046.7H434.8L428.7 1057.5Z" fill="none" stroke="#000" stroke-width="1.60" stroke-linejoin="miter"/>
<path d="M425.4 1046.3H437.6L431.5 1057.1Z" fill="none" stroke="#000" stroke-width="1.60" stroke-linejoin="miter"/>
<path d="M431.1 1052.2H443.2L437.1 1063.0Z" fill="none" stroke="#000" stroke-width="1.60" stroke-linejoin="miter"/>
<path d="M427.1 1051.9H439.2L433.1 1062.7Z" fill="none" stroke="#000" stroke-width="1.60" stroke-linejoin="miter"/>
<path d="M443.3 1046.3H455.4L449.4 1057.1Z" fill="none" stroke="#000" stroke-width="1.60" stroke-linejoin="miter"/>
<path d="M429.1 1062.6H441.2L435.1 1073.4Z" fill="none" stroke="#000" stroke-width="1.60" stroke-linejoin="miter"/>
<path d="M482.3 1056.2H494.4L488.4 1067.0Z" fill="none" stroke="#000" stroke-width="1.60" stroke-linejoin="miter"/>
<path d="M513.8 1049.1H525.8L519.8 1059.9Z" fill="none" stroke="#000" stroke-width="1.60" stroke-linejoin="miter"/>
<path d="M547.6 1060.2H559.6L553.6 1071.0Z" fill="none" stroke="#000" stroke-width="1.60" stroke-linejoin="miter"/>
<path d="M579.1 969.0H591.1L585.1 979.8Z" fill="none" stroke="#000" stroke-width="1.60" stroke-linejoin="miter"/>
<path d="M579.9 997.8H591.9L585.9 1008.6Z" fill="none" stroke="#000" stroke-width="1.60" stroke-linejoin="miter"/>
<path d="M613.5 1010.1H625.5L619.5 1020.9Z" fill="none" stroke="#000" stroke-width="1.60" stroke-linejoin="miter"/>
<path d="M595.4 1029.2H607.4L601.4 1040.0Z" fill="none" stroke="#000" stroke-width="1.60" stroke-linejoin="miter"/>
<path d="M589.2 1036.3H601.3L595.3 1047.1Z" fill="none" stroke="#000" stroke-width="1.60" stroke-linejoin="miter"/>
<path d="M660.2 1038.7H672.2L666.2 1049.5Z" fill="none" stroke="#000" stroke-width="1.60" stroke-linejoin="miter"/>
<path d="M635.6 1088.8H647.6L641.6 1099.6Z" fill="none" stroke="#000" stroke-width="1.60" stroke-linejoin="miter"/>
<path d="M609.2 895.0H621.3L615.3 905.8Z" fill="none" stroke="#000" stroke-width="1.60" stroke-linejoin="miter"/>
<path d="M585.2 925.2H597.3L591.3 936.0Z" fill="none" stroke="#000" stroke-width="1.60" stroke-linejoin="miter"/>
<path d="M596.8 926.8H608.8L602.8 937.6Z" fill="none" stroke="#000" stroke-width="1.60" stroke-linejoin="miter"/>
<path d="M603.0 963.0H615.0L609.0 973.8Z" fill="none" stroke="#000" stroke-width="1.60" stroke-linejoin="miter"/>
<path d="M727.9 886.1H739.9L733.9 896.9Z" fill="none" stroke="#000" stroke-width="1.60" stroke-linejoin="miter"/>
<path d="M827.4 943.4H839.4L833.4 954.2Z" fill="none" stroke="#000" stroke-width="1.60" stroke-linejoin="miter"/>
<path d="M743.0 1008.5H755.0L749.0 1019.3Z" fill="none" stroke="#000" stroke-width="1.60" stroke-linejoin="miter"/>
<path d="M247.2 875.5H259.4L253.3 886.3Z" fill="none" stroke="#000" stroke-width="1.60" stroke-linejoin="miter"/>
<path d="M295.6 874.3H307.7L301.6 885.1Z" fill="none" stroke="#000" stroke-width="1.60" stroke-linejoin="miter"/>
<path d="M299.6 873.1H311.7L305.6 883.9Z" fill="none" stroke="#000" stroke-width="1.60" stroke-linejoin="miter"/>
<path d="M313.4 873.1H325.6L319.5 883.9Z" fill="none" stroke="#000" stroke-width="1.60" stroke-linejoin="miter"/>
<path d="M280.8 888.6H292.9L286.9 899.4Z" fill="none" stroke="#000" stroke-width="1.60" stroke-linejoin="miter"/>
<path d="M283.2 888.2H295.4L289.3 899.0Z" fill="none" stroke="#000" stroke-width="1.60" stroke-linejoin="miter"/>
<path d="M336.8 889.8H348.9L342.9 900.6Z" fill="none" stroke="#000" stroke-width="1.60" stroke-linejoin="miter"/>
<path d="M311.4 896.6H323.6L317.5 907.4Z" fill="none" stroke="#000" stroke-width="1.60" stroke-linejoin="miter"/>
<path d="M293.9 901.3H306.1L300.0 912.1Z" fill="none" stroke="#000" stroke-width="1.60" stroke-linejoin="miter"/>
<path d="M294.8 906.9H306.9L300.8 917.7Z" fill="none" stroke="#000" stroke-width="1.60" stroke-linejoin="miter"/>
<path d="M293.3 916.1H305.4L299.4 926.9Z" fill="none" stroke="#000" stroke-width="1.60" stroke-linejoin="miter"/>
<path d="M340.4 908.5H352.6L346.5 919.3Z" fill="none" stroke="#000" stroke-width="1.60" stroke-linejoin="miter"/>
<path d="M250.9 916.1H263.1L257.0 926.9Z" fill="none" stroke="#000" stroke-width="1.60" stroke-linejoin="miter"/>
<path d="M244.8 922.0H256.9L250.8 932.8Z" fill="none" stroke="#000" stroke-width="1.60" stroke-linejoin="miter"/>
<path d="M316.2 916.9H328.4L322.3 927.7Z" fill="none" stroke="#000" stroke-width="1.60" stroke-linejoin="miter"/>
<path d="M322.6 916.1H334.7L328.6 926.9Z" fill="none" stroke="#000" stroke-width="1.60" stroke-linejoin="miter"/>
<path d="M327.8 918.0H339.9L333.8 928.8Z" fill="none" stroke="#000" stroke-width="1.60" stroke-linejoin="miter"/>
<path d="M326.9 922.8H339.1L333.0 933.6Z" fill="none" stroke="#000" stroke-width="1.60" stroke-linejoin="miter"/>
<path d="M363.1 924.0H375.2L369.2 934.8Z" fill="none" stroke="#000" stroke-width="1.60" stroke-linejoin="miter"/>
<path d="M229.5 941.1H241.7L235.6 951.9Z" fill="none" stroke="#000" stroke-width="1.60" stroke-linejoin="miter"/>
<path d="M246.6 954.6H258.8L252.7 965.4Z" fill="none" stroke="#000" stroke-width="1.60" stroke-linejoin="miter"/>
<path d="M229.9 959.0H242.1L236.0 969.8Z" fill="none" stroke="#000" stroke-width="1.60" stroke-linejoin="miter"/>
<path d="M235.8 963.0H248.0L241.9 973.8Z" fill="none" stroke="#000" stroke-width="1.60" stroke-linejoin="miter"/>
<path d="M284.8 959.0H296.9L290.8 969.8Z" fill="none" stroke="#000" stroke-width="1.60" stroke-linejoin="miter"/>
<path d="M274.4 962.6H286.6L280.5 973.4Z" fill="none" stroke="#000" stroke-width="1.60" stroke-linejoin="miter"/>
<path d="M305.1 959.4H317.2L311.1 970.2Z" fill="none" stroke="#000" stroke-width="1.60" stroke-linejoin="miter"/>
<path d="M328.9 955.8H341.1L335.0 966.6Z" fill="none" stroke="#000" stroke-width="1.60" stroke-linejoin="miter"/>
<path d="M344.1 949.1H356.2L350.1 959.9Z" fill="none" stroke="#000" stroke-width="1.60" stroke-linejoin="miter"/>
<path d="M357.1 947.9H369.2L363.2 958.7Z" fill="none" stroke="#000" stroke-width="1.60" stroke-linejoin="miter"/>
<path d="M369.4 945.1H381.6L375.5 955.9Z" fill="none" stroke="#000" stroke-width="1.60" stroke-linejoin="miter"/>
<path d="M368.8 954.6H380.9L374.8 965.4Z" fill="none" stroke="#000" stroke-width="1.60" stroke-linejoin="miter"/>
<path d="M364.3 963.0H376.4L370.4 973.8Z" fill="none" stroke="#000" stroke-width="1.60" stroke-linejoin="miter"/>
<path d="M378.3 947.1H390.4L384.4 957.9Z" fill="none" stroke="#000" stroke-width="1.60" stroke-linejoin="miter"/>
<path d="M385.4 953.8H397.6L391.5 964.6Z" fill="none" stroke="#000" stroke-width="1.60" stroke-linejoin="miter"/>
<path d="M390.6 959.4H402.8L396.7 970.2Z" fill="none" stroke="#000" stroke-width="1.60" stroke-linejoin="miter"/>
<path d="M402.1 964.2H414.2L408.2 975.0Z" fill="none" stroke="#000" stroke-width="1.60" stroke-linejoin="miter"/>
<path d="M408.9 964.6H421.1L415.0 975.4Z" fill="none" stroke="#000" stroke-width="1.60" stroke-linejoin="miter"/>
<path d="M491.6 869.4H503.8L497.7 880.2Z" fill="none" stroke="#000" stroke-width="1.60" stroke-linejoin="miter"/>
<path d="M396.2 883.1H408.4L402.3 893.9Z" fill="none" stroke="#000" stroke-width="1.60" stroke-linejoin="miter"/>
<path d="M419.6 885.0H431.7L425.6 895.8Z" fill="none" stroke="#000" stroke-width="1.60" stroke-linejoin="miter"/>
<path d="M457.6 880.7H469.8L463.7 891.5Z" fill="none" stroke="#000" stroke-width="1.60" stroke-linejoin="miter"/>
<path d="M470.6 891.8H482.7L476.6 902.6Z" fill="none" stroke="#000" stroke-width="1.60" stroke-linejoin="miter"/>
<path d="M481.1 905.7H493.2L487.2 916.5Z" fill="none" stroke="#000" stroke-width="1.60" stroke-linejoin="miter"/>
<path d="M493.4 916.9H505.6L499.5 927.7Z" fill="none" stroke="#000" stroke-width="1.60" stroke-linejoin="miter"/>
<path d="M472.3 931.2H484.4L478.4 942.0Z" fill="none" stroke="#000" stroke-width="1.60" stroke-linejoin="miter"/>
<path d="M480.6 931.2H492.7L486.6 942.0Z" fill="none" stroke="#000" stroke-width="1.60" stroke-linejoin="miter"/>
<path d="M457.1 938.3H469.2L463.1 949.1Z" fill="none" stroke="#000" stroke-width="1.60" stroke-linejoin="miter"/>
<path d="M451.2 946.7H463.4L457.3 957.5Z" fill="none" stroke="#000" stroke-width="1.60" stroke-linejoin="miter"/>
<path d="M388.9 935.1H401.1L395.0 945.9Z" fill="none" stroke="#000" stroke-width="1.60" stroke-linejoin="miter"/>
<path d="M505.6 947.9H517.6L511.6 958.7Z" fill="none" stroke="#000" stroke-width="1.60" stroke-linejoin="miter"/>
<path d="M493.4 958.2H505.6L499.5 969.0Z" fill="none" stroke="#000" stroke-width="1.60" stroke-linejoin="miter"/>
<path d="M558.7 875.8H570.8L564.7 886.6Z" fill="none" stroke="#000" stroke-width="1.60" stroke-linejoin="miter"/>
<path d="M557.9 908.6H569.9L563.9 919.4Z" fill="none" stroke="#000" stroke-width="1.60" stroke-linejoin="miter"/>
<path d="M529.2 963.7H541.2L535.2 974.5Z" fill="none" stroke="#000" stroke-width="1.60" stroke-linejoin="miter"/>
<path d="M265.3 804.1H277.4L271.4 814.9Z" fill="none" stroke="#000" stroke-width="1.60" stroke-linejoin="miter"/>
<path d="M275.8 818.8H287.9L281.9 829.6Z" fill="none" stroke="#000" stroke-width="1.60" stroke-linejoin="miter"/>
<path d="M274.1 839.1H286.2L280.1 849.9Z" fill="none" stroke="#000" stroke-width="1.60" stroke-linejoin="miter"/>
<path d="M276.4 859.8H288.6L282.5 870.6Z" fill="none" stroke="#000" stroke-width="1.60" stroke-linejoin="miter"/>
<path d="M281.6 859.8H293.8L287.7 870.6Z" fill="none" stroke="#000" stroke-width="1.60" stroke-linejoin="miter"/>
<path d="M265.1 865.0H277.2L271.2 875.8Z" fill="none" stroke="#000" stroke-width="1.60" stroke-linejoin="miter"/>
<path d="M350.2 801.7H362.4L356.3 812.5Z" fill="none" stroke="#000" stroke-width="1.60" stroke-linejoin="miter"/>
<path d="M327.8 827.6H339.9L333.8 838.4Z" fill="none" stroke="#000" stroke-width="1.60" stroke-linejoin="miter"/>
<path d="M362.3 825.2H374.4L368.4 836.0Z" fill="none" stroke="#000" stroke-width="1.60" stroke-linejoin="miter"/>
<path d="M337.6 843.9H349.8L343.7 854.7Z" fill="none" stroke="#000" stroke-width="1.60" stroke-linejoin="miter"/>
<path d="M340.8 845.9H352.9L346.9 856.7Z" fill="none" stroke="#000" stroke-width="1.60" stroke-linejoin="miter"/>
<path d="M366.8 841.1H378.9L372.8 851.9Z" fill="none" stroke="#000" stroke-width="1.60" stroke-linejoin="miter"/>
<path d="M359.6 853.0H371.7L365.6 863.8Z" fill="none" stroke="#000" stroke-width="1.60" stroke-linejoin="miter"/>
<path d="M387.1 785.8H399.2L393.1 796.6Z" fill="none" stroke="#000" stroke-width="1.60" stroke-linejoin="miter"/>
<path d="M377.1 808.9H389.2L383.2 819.7Z" fill="none" stroke="#000" stroke-width="1.60" stroke-linejoin="miter"/>
<path d="M390.2 820.0H402.4L396.3 830.8Z" fill="none" stroke="#000" stroke-width="1.60" stroke-linejoin="miter"/>
<path d="M400.9 822.4H413.1L407.0 833.2Z" fill="none" stroke="#000" stroke-width="1.60" stroke-linejoin="miter"/>
<path d="M439.3 834.8H451.4L445.4 845.6Z" fill="none" stroke="#000" stroke-width="1.60" stroke-linejoin="miter"/>
<path d="M424.2 843.9H436.4L430.3 854.7Z" fill="none" stroke="#000" stroke-width="1.60" stroke-linejoin="miter"/>
<path d="M381.2 848.7H393.4L387.3 859.5Z" fill="none" stroke="#000" stroke-width="1.60" stroke-linejoin="miter"/>
<path d="M401.9 863.8H414.1L408.0 874.6Z" fill="none" stroke="#000" stroke-width="1.60" stroke-linejoin="miter"/>
<path d="M449.1 861.0H461.2L455.2 871.8Z" fill="none" stroke="#000" stroke-width="1.60" stroke-linejoin="miter"/>
<path d="M484.6 801.7H496.7L490.6 812.5Z" fill="none" stroke="#000" stroke-width="1.60" stroke-linejoin="miter"/>
<path d="M485.9 825.6H498.1L492.0 836.4Z" fill="none" stroke="#000" stroke-width="1.60" stroke-linejoin="miter"/>
<path d="M268.8 709.9H280.9L274.9 720.7Z" fill="none" stroke="#000" stroke-width="1.60" stroke-linejoin="miter"/>
<path d="M251.6 730.1H263.8L257.7 740.9Z" fill="none" stroke="#000" stroke-width="1.60" stroke-linejoin="miter"/>
<path d="M291.2 744.6H303.4L297.3 755.4Z" fill="none" stroke="#000" stroke-width="1.60" stroke-linejoin="miter"/>
<path d="M407.4 729.4H419.6L413.5 740.2Z" fill="none" stroke="#000" stroke-width="1.60" stroke-linejoin="miter"/>
<path d="M533.1 670.8H545.1L539.1 681.6Z" fill="none" stroke="#000" stroke-width="1.60" stroke-linejoin="miter"/>
<circle cx="1238.7" cy="994.5" r="5.35" fill="none" stroke="#000" stroke-width="1.45"/>
<circle cx="1310.0" cy="991.9" r="5.35" fill="none" stroke="#000" stroke-width="1.45"/>
<circle cx="1321.2" cy="992.5" r="5.35" fill="none" stroke="#000" stroke-width="1.45"/>
<circle cx="1368.3" cy="995.1" r="5.35" fill="none" stroke="#000" stroke-width="1.45"/>
<circle cx="1387.9" cy="992.3" r="5.35" fill="none" stroke="#000" stroke-width="1.45"/>
<circle cx="1408.9" cy="997.4" r="5.35" fill="none" stroke="#000" stroke-width="1.45"/>
<circle cx="1291.9" cy="1011.0" r="5.35" fill="none" stroke="#000" stroke-width="1.45"/>
<circle cx="1342.5" cy="1012.5" r="5.35" fill="none" stroke="#000" stroke-width="1.45"/>
<circle cx="1359.4" cy="1008.7" r="5.35" fill="none" stroke="#000" stroke-width="1.45"/>
<circle cx="1261.7" cy="1026.5" r="5.35" fill="none" stroke="#000" stroke-width="1.45"/>
<circle cx="1315.1" cy="1023.7" r="5.35" fill="none" stroke="#000" stroke-width="1.45"/>
<circle cx="1325.6" cy="1032.6" r="5.35" fill="none" stroke="#000" stroke-width="1.45"/>
<circle cx="1357.8" cy="1029.2" r="5.35" fill="none" stroke="#000" stroke-width="1.45"/>
<circle cx="1384.2" cy="1025.9" r="5.35" fill="none" stroke="#000" stroke-width="1.45"/>
<circle cx="1389.6" cy="1025.9" r="5.35" fill="none" stroke="#000" stroke-width="1.45"/>
<circle cx="1411.6" cy="1020.2" r="5.35" fill="none" stroke="#000" stroke-width="1.45"/>
<circle cx="1415.0" cy="1035.8" r="5.35" fill="none" stroke="#000" stroke-width="1.45"/>
<circle cx="1350.8" cy="1041.6" r="5.35" fill="none" stroke="#000" stroke-width="1.45"/>
<circle cx="1359.3" cy="1040.3" r="5.35" fill="none" stroke="#000" stroke-width="1.45"/>
<circle cx="1354.6" cy="1043.7" r="5.35" fill="none" stroke="#000" stroke-width="1.45"/>
<circle cx="1370.9" cy="1043.8" r="5.35" fill="none" stroke="#000" stroke-width="1.45"/>
<circle cx="1400.7" cy="1041.3" r="5.35" fill="none" stroke="#000" stroke-width="1.45"/>
<circle cx="1212.4" cy="1052.0" r="5.35" fill="none" stroke="#000" stroke-width="1.45"/>
<circle cx="1248.7" cy="1054.3" r="5.35" fill="none" stroke="#000" stroke-width="1.45"/>
<circle cx="1304.9" cy="1053.0" r="5.35" fill="none" stroke="#000" stroke-width="1.45"/>
<circle cx="1325.0" cy="1058.1" r="5.35" fill="none" stroke="#000" stroke-width="1.45"/>
<circle cx="1333.2" cy="1054.9" r="5.35" fill="none" stroke="#000" stroke-width="1.45"/>
<circle cx="1365.0" cy="1055.9" r="5.35" fill="none" stroke="#000" stroke-width="1.45"/>
<circle cx="1360.0" cy="1063.2" r="5.35" fill="none" stroke="#000" stroke-width="1.45"/>
<circle cx="1382.6" cy="1053.6" r="5.35" fill="none" stroke="#000" stroke-width="1.45"/>
<circle cx="1397.9" cy="1053.6" r="5.35" fill="none" stroke="#000" stroke-width="1.45"/>
<circle cx="1411.2" cy="1059.8" r="5.35" fill="none" stroke="#000" stroke-width="1.45"/>
<circle cx="1299.8" cy="1078.8" r="5.35" fill="none" stroke="#000" stroke-width="1.45"/>
<circle cx="1332.6" cy="1077.2" r="5.35" fill="none" stroke="#000" stroke-width="1.45"/>
<circle cx="1262.7" cy="1085.7" r="5.35" fill="none" stroke="#000" stroke-width="1.45"/>
<circle cx="1183.4" cy="1091.6" r="5.35" fill="none" stroke="#000" stroke-width="1.45"/>
<circle cx="1237.5" cy="1105.5" r="5.35" fill="none" stroke="#000" stroke-width="1.45"/>
<circle cx="1341.0" cy="1106.9" r="5.35" fill="none" stroke="#000" stroke-width="1.45"/>
<circle cx="1310.3" cy="1120.7" r="5.35" fill="none" stroke="#000" stroke-width="1.45"/>
<circle cx="1347.8" cy="1130.0" r="5.35" fill="none" stroke="#000" stroke-width="1.45"/>
<circle cx="1377.7" cy="1122.4" r="5.35" fill="none" stroke="#000" stroke-width="1.45"/>
<circle cx="1443.8" cy="997.6" r="5.35" fill="none" stroke="#000" stroke-width="1.45"/>
<circle cx="1469.0" cy="995.7" r="5.35" fill="none" stroke="#000" stroke-width="1.45"/>
<circle cx="1516.7" cy="991.5" r="5.35" fill="none" stroke="#000" stroke-width="1.45"/>
<circle cx="1456.5" cy="1008.2" r="5.35" fill="none" stroke="#000" stroke-width="1.45"/>
<circle cx="1443.3" cy="1021.8" r="5.35" fill="none" stroke="#000" stroke-width="1.45"/>
<circle cx="1426.6" cy="1025.6" r="5.35" fill="none" stroke="#000" stroke-width="1.45"/>
<circle cx="1491.9" cy="1027.8" r="5.35" fill="none" stroke="#000" stroke-width="1.45"/>
<circle cx="1472.2" cy="1038.4" r="5.35" fill="none" stroke="#000" stroke-width="1.45"/>
<circle cx="1537.7" cy="1003.4" r="5.35" fill="none" stroke="#000" stroke-width="1.45"/>
<circle cx="1563.2" cy="1010.6" r="5.35" fill="none" stroke="#000" stroke-width="1.45"/>
<circle cx="1567.0" cy="1019.5" r="5.35" fill="none" stroke="#000" stroke-width="1.45"/>
<circle cx="1578.9" cy="1000.4" r="5.35" fill="none" stroke="#000" stroke-width="1.45"/>
<circle cx="1579.8" cy="1017.6" r="5.35" fill="none" stroke="#000" stroke-width="1.45"/>
<circle cx="1587.4" cy="1024.4" r="5.35" fill="none" stroke="#000" stroke-width="1.45"/>
<circle cx="1598.8" cy="998.5" r="5.35" fill="none" stroke="#000" stroke-width="1.45"/>
<circle cx="1537.7" cy="1046.4" r="5.35" fill="none" stroke="#000" stroke-width="1.45"/>
<circle cx="1547.9" cy="1047.7" r="5.35" fill="none" stroke="#000" stroke-width="1.45"/>
<circle cx="1660.2" cy="1039.9" r="5.35" fill="none" stroke="#000" stroke-width="1.45"/>
<circle cx="1448.0" cy="1056.8" r="5.35" fill="none" stroke="#000" stroke-width="1.45"/>
<circle cx="1442.9" cy="1065.1" r="5.35" fill="none" stroke="#000" stroke-width="1.45"/>
<circle cx="1450.3" cy="1065.7" r="5.35" fill="none" stroke="#000" stroke-width="1.45"/>
<circle cx="1454.8" cy="1082.7" r="5.35" fill="none" stroke="#000" stroke-width="1.45"/>
<circle cx="1471.2" cy="1090.8" r="5.35" fill="none" stroke="#000" stroke-width="1.45"/>
<circle cx="1491.9" cy="1090.2" r="5.35" fill="none" stroke="#000" stroke-width="1.45"/>
<circle cx="1602.4" cy="1062.8" r="5.35" fill="none" stroke="#000" stroke-width="1.45"/>
<circle cx="1632.8" cy="1070.6" r="5.35" fill="none" stroke="#000" stroke-width="1.45"/>
<circle cx="1664.1" cy="1078.5" r="5.35" fill="none" stroke="#000" stroke-width="1.45"/>
<circle cx="1531.4" cy="1103.9" r="5.35" fill="none" stroke="#000" stroke-width="1.45"/>
<circle cx="1533.9" cy="1102.7" r="5.35" fill="none" stroke="#000" stroke-width="1.45"/>
<circle cx="1499.9" cy="1114.7" r="5.35" fill="none" stroke="#000" stroke-width="1.45"/>
<circle cx="1753.8" cy="1000.4" r="5.35" fill="none" stroke="#000" stroke-width="1.45"/>
<circle cx="1796.0" cy="1012.0" r="5.35" fill="none" stroke="#000" stroke-width="1.45"/>
<circle cx="1802.8" cy="1022.7" r="5.35" fill="none" stroke="#000" stroke-width="1.45"/>
<circle cx="1863.9" cy="997.0" r="5.35" fill="none" stroke="#000" stroke-width="1.45"/>
<circle cx="1832.0" cy="1058.1" r="5.35" fill="none" stroke="#000" stroke-width="1.45"/>
<circle cx="1326.8" cy="923.3" r="5.35" fill="none" stroke="#000" stroke-width="1.45"/>
<circle cx="1334.2" cy="943.0" r="5.35" fill="none" stroke="#000" stroke-width="1.45"/>
<circle cx="1402.9" cy="917.8" r="5.35" fill="none" stroke="#000" stroke-width="1.45"/>
<circle cx="1384.9" cy="935.4" r="5.35" fill="none" stroke="#000" stroke-width="1.45"/>
<circle cx="1376.6" cy="957.7" r="5.35" fill="none" stroke="#000" stroke-width="1.45"/>
<circle cx="1385.1" cy="966.8" r="5.35" fill="none" stroke="#000" stroke-width="1.45"/>
<circle cx="1364.8" cy="970.9" r="5.35" fill="none" stroke="#000" stroke-width="1.45"/>
<circle cx="1317.7" cy="976.0" r="5.35" fill="none" stroke="#000" stroke-width="1.45"/>
<circle cx="1352.7" cy="984.0" r="5.35" fill="none" stroke="#000" stroke-width="1.45"/>
<circle cx="1355.2" cy="984.7" r="5.35" fill="none" stroke="#000" stroke-width="1.45"/>
<circle cx="1369.5" cy="985.3" r="5.35" fill="none" stroke="#000" stroke-width="1.45"/>
<circle cx="1429.7" cy="831.9" r="5.35" fill="none" stroke="#000" stroke-width="1.45"/>
<circle cx="1481.9" cy="838.3" r="5.35" fill="none" stroke="#000" stroke-width="1.45"/>
<circle cx="1460.5" cy="858.3" r="5.35" fill="none" stroke="#000" stroke-width="1.45"/>
<circle cx="1466.0" cy="867.9" r="5.35" fill="none" stroke="#000" stroke-width="1.45"/>
<circle cx="1497.2" cy="869.7" r="5.35" fill="none" stroke="#000" stroke-width="1.45"/>
<circle cx="1650.3" cy="859.0" r="5.35" fill="none" stroke="#000" stroke-width="1.45"/>
<circle cx="1577.0" cy="885.1" r="5.35" fill="none" stroke="#000" stroke-width="1.45"/>
<circle cx="1596.1" cy="903.2" r="5.35" fill="none" stroke="#000" stroke-width="1.45"/>
<circle cx="1543.9" cy="908.3" r="5.35" fill="none" stroke="#000" stroke-width="1.45"/>
<circle cx="1452.6" cy="904.8" r="5.35" fill="none" stroke="#000" stroke-width="1.45"/>
<circle cx="1462.2" cy="921.0" r="5.35" fill="none" stroke="#000" stroke-width="1.45"/>
<circle cx="1428.5" cy="930.8" r="5.35" fill="none" stroke="#000" stroke-width="1.45"/>
<circle cx="1420.5" cy="942.2" r="5.35" fill="none" stroke="#000" stroke-width="1.45"/>
<circle cx="1421.5" cy="943.5" r="5.35" fill="none" stroke="#000" stroke-width="1.45"/>
<circle cx="1446.3" cy="941.4" r="5.35" fill="none" stroke="#000" stroke-width="1.45"/>
<circle cx="1638.7" cy="923.2" r="5.35" fill="none" stroke="#000" stroke-width="1.45"/>
<circle cx="1497.8" cy="957.7" r="5.35" fill="none" stroke="#000" stroke-width="1.45"/>
<circle cx="1513.7" cy="967.2" r="5.35" fill="none" stroke="#000" stroke-width="1.45"/>
<circle cx="1433.8" cy="973.0" r="5.35" fill="none" stroke="#000" stroke-width="1.45"/>
<circle cx="1465.8" cy="979.2" r="5.35" fill="none" stroke="#000" stroke-width="1.45"/>
<circle cx="1484.5" cy="984.7" r="5.35" fill="none" stroke="#000" stroke-width="1.45"/>
<circle cx="1490.2" cy="984.7" r="5.35" fill="none" stroke="#000" stroke-width="1.45"/>
<circle cx="1505.5" cy="982.5" r="5.35" fill="none" stroke="#000" stroke-width="1.45"/>
<circle cx="1512.9" cy="981.2" r="5.35" fill="none" stroke="#000" stroke-width="1.45"/>
<circle cx="1596.5" cy="980.8" r="5.35" fill="none" stroke="#000" stroke-width="1.45"/>
<circle cx="1613.9" cy="975.7" r="5.35" fill="none" stroke="#000" stroke-width="1.45"/>
<circle cx="1614.6" cy="984.0" r="5.35" fill="none" stroke="#000" stroke-width="1.45"/>
<circle cx="1901.0" cy="959.6" r="5.35" fill="none" stroke="#000" stroke-width="1.45"/>
<circle cx="1737.6" cy="988.5" r="5.35" fill="none" stroke="#000" stroke-width="1.45"/>
<circle cx="1406.0" cy="679.4" r="5.35" fill="none" stroke="#000" stroke-width="1.45"/>
<circle cx="1391.5" cy="821.1" r="5.35" fill="none" stroke="#000" stroke-width="1.45"/>
<circle cx="1504.5" cy="823.1" r="5.35" fill="none" stroke="#000" stroke-width="1.45"/>
<circle cx="1659.7" cy="824.9" r="5.35" fill="none" stroke="#000" stroke-width="1.45"/>
<line x1="84.8" y1="467.3" x2="915.1" y2="87.6" stroke="#222" stroke-width="2.6" stroke-linecap="round"/>
<line x1="1163.4" y1="447.5" x2="1891.3" y2="128.2" stroke="#000" stroke-width="2.5" stroke-linecap="round"/>
<path d="M223.70 536.30V527.30M223.70 36.90V45.90M368.00 536.30V527.30M368.00 36.90V45.90M512.30 536.30V527.30M512.30 36.90V45.90M656.60 536.30V527.30M656.60 36.90V45.90M800.90 536.30V527.30M800.90 36.90V45.90M79.40 464.96H88.40M945.20 464.96H936.20M79.40 393.61H88.40M945.20 393.61H936.20M79.40 322.27H88.40M945.20 322.27H936.20M79.40 250.93H88.40M945.20 250.93H936.20M79.40 179.59H88.40M945.20 179.59H936.20M79.40 108.24H88.40M945.20 108.24H936.20" stroke="#222" stroke-width="2.00" fill="none"/>
<rect x="79.40" y="36.90" width="865.80" height="499.40" fill="none" stroke="#222" stroke-width="2.00"/>
<text x="79.40" y="562.80" font-size="26" text-anchor="middle">0</text>
<text x="223.70" y="562.80" font-size="26" text-anchor="middle">5</text>
<text x="368.00" y="562.80" font-size="26" text-anchor="middle">10</text>
<text x="512.30" y="562.80" font-size="26" text-anchor="middle">15</text>
<text x="656.60" y="562.80" font-size="26" text-anchor="middle">20</text>
<text x="800.90" y="562.80" font-size="26" text-anchor="middle">25</text>
<text x="944.20" y="562.80" font-size="26" text-anchor="middle">30</text>
<text x="60.10" y="544.30" font-size="26" text-anchor="middle">0</text>
<text x="60.10" y="472.96" font-size="26" text-anchor="middle">2</text>
<text x="60.10" y="401.61" font-size="26" text-anchor="middle">4</text>
<text x="60.10" y="330.27" font-size="26" text-anchor="middle">6</text>
<text x="60.10" y="258.93" font-size="26" text-anchor="middle">8</text>
<text x="60.10" y="187.59" font-size="26" text-anchor="middle">10</text>
<text x="60.10" y="116.24" font-size="26" text-anchor="middle">12</text>
<text x="60.10" y="44.90" font-size="26" text-anchor="middle">14</text>
<path d="M1257.08 536.30V527.30M1257.08 36.90V45.90M1401.67 536.30V527.30M1401.67 36.90V45.90M1546.25 536.30V527.30M1546.25 36.90V45.90M1690.83 536.30V527.30M1690.83 36.90V45.90M1835.42 536.30V527.30M1835.42 36.90V45.90M1112.50 453.07H1121.50M1980.00 453.07H1971.00M1112.50 369.83H1121.50M1980.00 369.83H1971.00M1112.50 286.60H1121.50M1980.00 286.60H1971.00M1112.50 203.37H1121.50M1980.00 203.37H1971.00M1112.50 120.13H1121.50M1980.00 120.13H1971.00" stroke="#222" stroke-width="2.00" fill="none"/>
<rect x="1112.50" y="36.90" width="867.50" height="499.40" fill="none" stroke="#222" stroke-width="2.00"/>
<text x="1112.50" y="562.80" font-size="26" text-anchor="middle">0</text>
<text x="1257.08" y="562.80" font-size="26" text-anchor="middle">0.1</text>
<text x="1401.67" y="562.80" font-size="26" text-anchor="middle">0.2</text>
<text x="1546.25" y="562.80" font-size="26" text-anchor="middle">0.3</text>
<text x="1690.83" y="562.80" font-size="26" text-anchor="middle">0.4</text>
<text x="1835.42" y="562.80" font-size="26" text-anchor="middle">0.5</text>
<text x="1976.70" y="562.80" font-size="26" text-anchor="middle">0.6</text>
<text x="1088.20" y="544.30" font-size="26" text-anchor="middle">0</text>
<text x="1088.20" y="461.07" font-size="26" text-anchor="middle">0.5</text>
<text x="1088.20" y="377.83" font-size="26" text-anchor="middle">1</text>
<text x="1088.20" y="294.60" font-size="26" text-anchor="middle">1.5</text>
<text x="1088.20" y="211.37" font-size="26" text-anchor="middle">2</text>
<text x="1088.20" y="128.13" font-size="26" text-anchor="middle">2.5</text>
<text x="1088.20" y="44.90" font-size="26" text-anchor="middle">3</text>
<path d="M203.00 1168.80V1159.80M203.00 669.90V678.90M326.70 1168.80V1159.80M326.70 669.90V678.90M450.40 1168.80V1159.80M450.40 669.90V678.90M574.10 1168.80V1159.80M574.10 669.90V678.90M697.80 1168.80V1159.80M697.80 669.90V678.90M821.50 1168.80V1159.80M821.50 669.90V678.90M79.30 1097.53H88.30M945.20 1097.53H936.20M79.30 1026.26H88.30M945.20 1026.26H936.20M79.30 954.99H88.30M945.20 954.99H936.20M79.30 883.71H88.30M945.20 883.71H936.20M79.30 812.44H88.30M945.20 812.44H936.20M79.30 741.17H88.30M945.20 741.17H936.20" stroke="#222" stroke-width="2.00" fill="none"/>
<rect x="79.30" y="669.90" width="865.90" height="498.90" fill="none" stroke="#222" stroke-width="2.00"/>
<text x="79.30" y="1195.30" font-size="26" text-anchor="middle">0</text>
<text x="203.00" y="1195.30" font-size="26" text-anchor="middle">200</text>
<text x="326.70" y="1195.30" font-size="26" text-anchor="middle">400</text>
<text x="450.40" y="1195.30" font-size="26" text-anchor="middle">600</text>
<text x="574.10" y="1195.30" font-size="26" text-anchor="middle">800</text>
<text x="697.80" y="1195.30" font-size="26" text-anchor="middle">1000</text>
<text x="821.50" y="1195.30" font-size="26" text-anchor="middle">1200</text>
<text x="945.20" y="1195.30" font-size="26" text-anchor="middle">1400</text>
<text x="60.00" y="1176.80" font-size="26" text-anchor="middle">0</text>
<text x="60.00" y="1105.53" font-size="26" text-anchor="middle">2</text>
<text x="60.00" y="1034.26" font-size="26" text-anchor="middle">4</text>
<text x="60.00" y="962.99" font-size="26" text-anchor="middle">6</text>
<text x="60.00" y="891.71" font-size="26" text-anchor="middle">8</text>
<text x="60.00" y="820.44" font-size="26" text-anchor="middle">10</text>
<text x="60.00" y="749.17" font-size="26" text-anchor="middle">12</text>
<text x="60.00" y="677.90" font-size="26" text-anchor="middle">14</text>
<path d="M1199.23 1168.80V1159.80M1199.23 669.90V678.90M1285.96 1168.80V1159.80M1285.96 669.90V678.90M1372.69 1168.80V1159.80M1372.69 669.90V678.90M1459.42 1168.80V1159.80M1459.42 669.90V678.90M1546.15 1168.80V1159.80M1546.15 669.90V678.90M1632.88 1168.80V1159.80M1632.88 669.90V678.90M1719.61 1168.80V1159.80M1719.61 669.90V678.90M1806.34 1168.80V1159.80M1806.34 669.90V678.90M1893.07 1168.80V1159.80M1893.07 669.90V678.90M1112.50 1085.65H1121.50M1979.80 1085.65H1970.80M1112.50 1002.50H1121.50M1979.80 1002.50H1970.80M1112.50 919.35H1121.50M1979.80 919.35H1970.80M1112.50 836.20H1121.50M1979.80 836.20H1970.80M1112.50 753.05H1121.50M1979.80 753.05H1970.80" stroke="#222" stroke-width="2.00" fill="none"/>
<rect x="1112.50" y="669.90" width="867.30" height="498.90" fill="none" stroke="#222" stroke-width="2.00"/>
<text x="1112.50" y="1195.30" font-size="26" text-anchor="middle">0</text>
<text x="1199.23" y="1195.30" font-size="26" text-anchor="middle">500</text>
<text x="1285.96" y="1195.30" font-size="26" text-anchor="middle">1000</text>
<text x="1372.69" y="1195.30" font-size="26" text-anchor="middle">1500</text>
<text x="1459.42" y="1195.30" font-size="26" text-anchor="middle">2000</text>
<text x="1546.15" y="1195.30" font-size="26" text-anchor="middle">2500</text>
<text x="1632.88" y="1195.30" font-size="26" text-anchor="middle">3000</text>
<text x="1719.61" y="1195.30" font-size="26" text-anchor="middle">3500</text>
<text x="1806.34" y="1195.30" font-size="26" text-anchor="middle">4000</text>
<text x="1893.07" y="1195.30" font-size="26" text-anchor="middle">4500</text>
<text x="1979.80" y="1195.30" font-size="26" text-anchor="middle">5000</text>
<text x="1088.20" y="1176.80" font-size="26" text-anchor="middle">0</text>
<text x="1088.20" y="1093.65" font-size="26" text-anchor="middle">0.5</text>
<text x="1088.20" y="1010.50" font-size="26" text-anchor="middle">1</text>
<text x="1088.20" y="927.35" font-size="26" text-anchor="middle">1.5</text>
<text x="1088.20" y="844.20" font-size="26" text-anchor="middle">2</text>
<text x="1088.20" y="761.05" font-size="26" text-anchor="middle">2.5</text>
<text x="1088.20" y="677.90" font-size="26" text-anchor="middle">3</text>
<text x="101.5" y="91.2" font-size="48" font-weight="bold">a</text>
<text x="1135.5" y="91.2" font-size="48" font-weight="bold">b</text>
<text x="101.5" y="725.0" font-size="48" font-weight="bold">c</text>
<text x="1135.5" y="725.0" font-size="48" font-weight="bold">d</text>
<text x="512.3" y="20.6" font-size="27.5" font-weight="bold" font-style="italic" text-anchor="middle">Spartina</text>
<text x="1546.3" y="20.6" font-size="27.5" font-weight="bold" font-style="italic" text-anchor="middle">Elymus</text>
<text x="530.0" y="602.3" font-size="27.2" text-anchor="middle">Second moment of area <tspan font-style="italic">I</tspan> [mm<tspan font-size="18" dy="-10.6">4</tspan><tspan dy="10.6">]</tspan></text>
<text x="1566.0" y="602.3" font-size="27.2" text-anchor="middle">Second moment of area <tspan font-style="italic">I</tspan> [mm<tspan font-size="18" dy="-10.6">4</tspan><tspan dy="10.6">]</tspan></text>
<text x="538.0" y="1251.2" font-size="27.2" text-anchor="middle">Young's bending modulus <tspan font-style="italic">E</tspan> [N/mm<tspan font-size="18" dy="-10.6">2</tspan><tspan dy="10.6">]</tspan></text>
<text x="1572.0" y="1251.2" font-size="27.2" text-anchor="middle">Young's bending modulus <tspan font-style="italic">E</tspan> [N/mm<tspan font-size="18" dy="-10.6">2</tspan><tspan dy="10.6">]</tspan></text>
<text transform="translate(19.8 132.3) rotate(-90)" font-size="27.3" text-anchor="end" word-spacing="-2">Breaking force <tspan font-style="italic" font-size="22.6">F</tspan><tspan font-style="italic" font-size="22.6" dy="5.5">max</tspan><tspan dy="-5.5"> [N]</tspan></text>
<text transform="translate(1042.0 132.3) rotate(-90)" font-size="27.3" text-anchor="end" word-spacing="-2">Breaking force <tspan font-style="italic" font-size="22.6">F</tspan><tspan font-style="italic" font-size="22.6" dy="5.5">max</tspan><tspan dy="-5.5"> [N]</tspan></text>
<text transform="translate(19.8 765.3) rotate(-90)" font-size="27.3" text-anchor="end" word-spacing="-2">Breaking force <tspan font-style="italic" font-size="22.6">F</tspan><tspan font-style="italic" font-size="22.6" dy="5.5">max</tspan><tspan dy="-5.5"> [N]</tspan></text>
<text transform="translate(1042.0 765.3) rotate(-90)" font-size="27.3" text-anchor="end" word-spacing="-2">Breaking force <tspan font-style="italic" font-size="22.6">F</tspan><tspan font-style="italic" font-size="22.6" dy="5.5">max</tspan><tspan dy="-5.5"> [N]</tspan></text>
<text x="932.9" y="507.6" font-size="26.8" text-anchor="end">F<tspan font-size="18.5" dy="5.5">max</tspan><tspan dy="-5.5"> = 0.37 * </tspan><tspan font-style="italic">I</tspan> + 1.87, R<tspan font-size="18" dy="-10.6">2</tspan><tspan dy="10.6"> = 0.42</tspan></text>
<text x="1961.7" y="507.6" font-size="26.8" text-anchor="end">F<tspan font-size="18.5" dy="5.5">max</tspan><tspan dy="-5.5"> = 3.81 * </tspan><tspan font-style="italic">I</tspan> + 0.4, R<tspan font-size="18" dy="-10.6">2</tspan><tspan dy="10.6"> = 0.25</tspan></text>
</svg></body></html>
